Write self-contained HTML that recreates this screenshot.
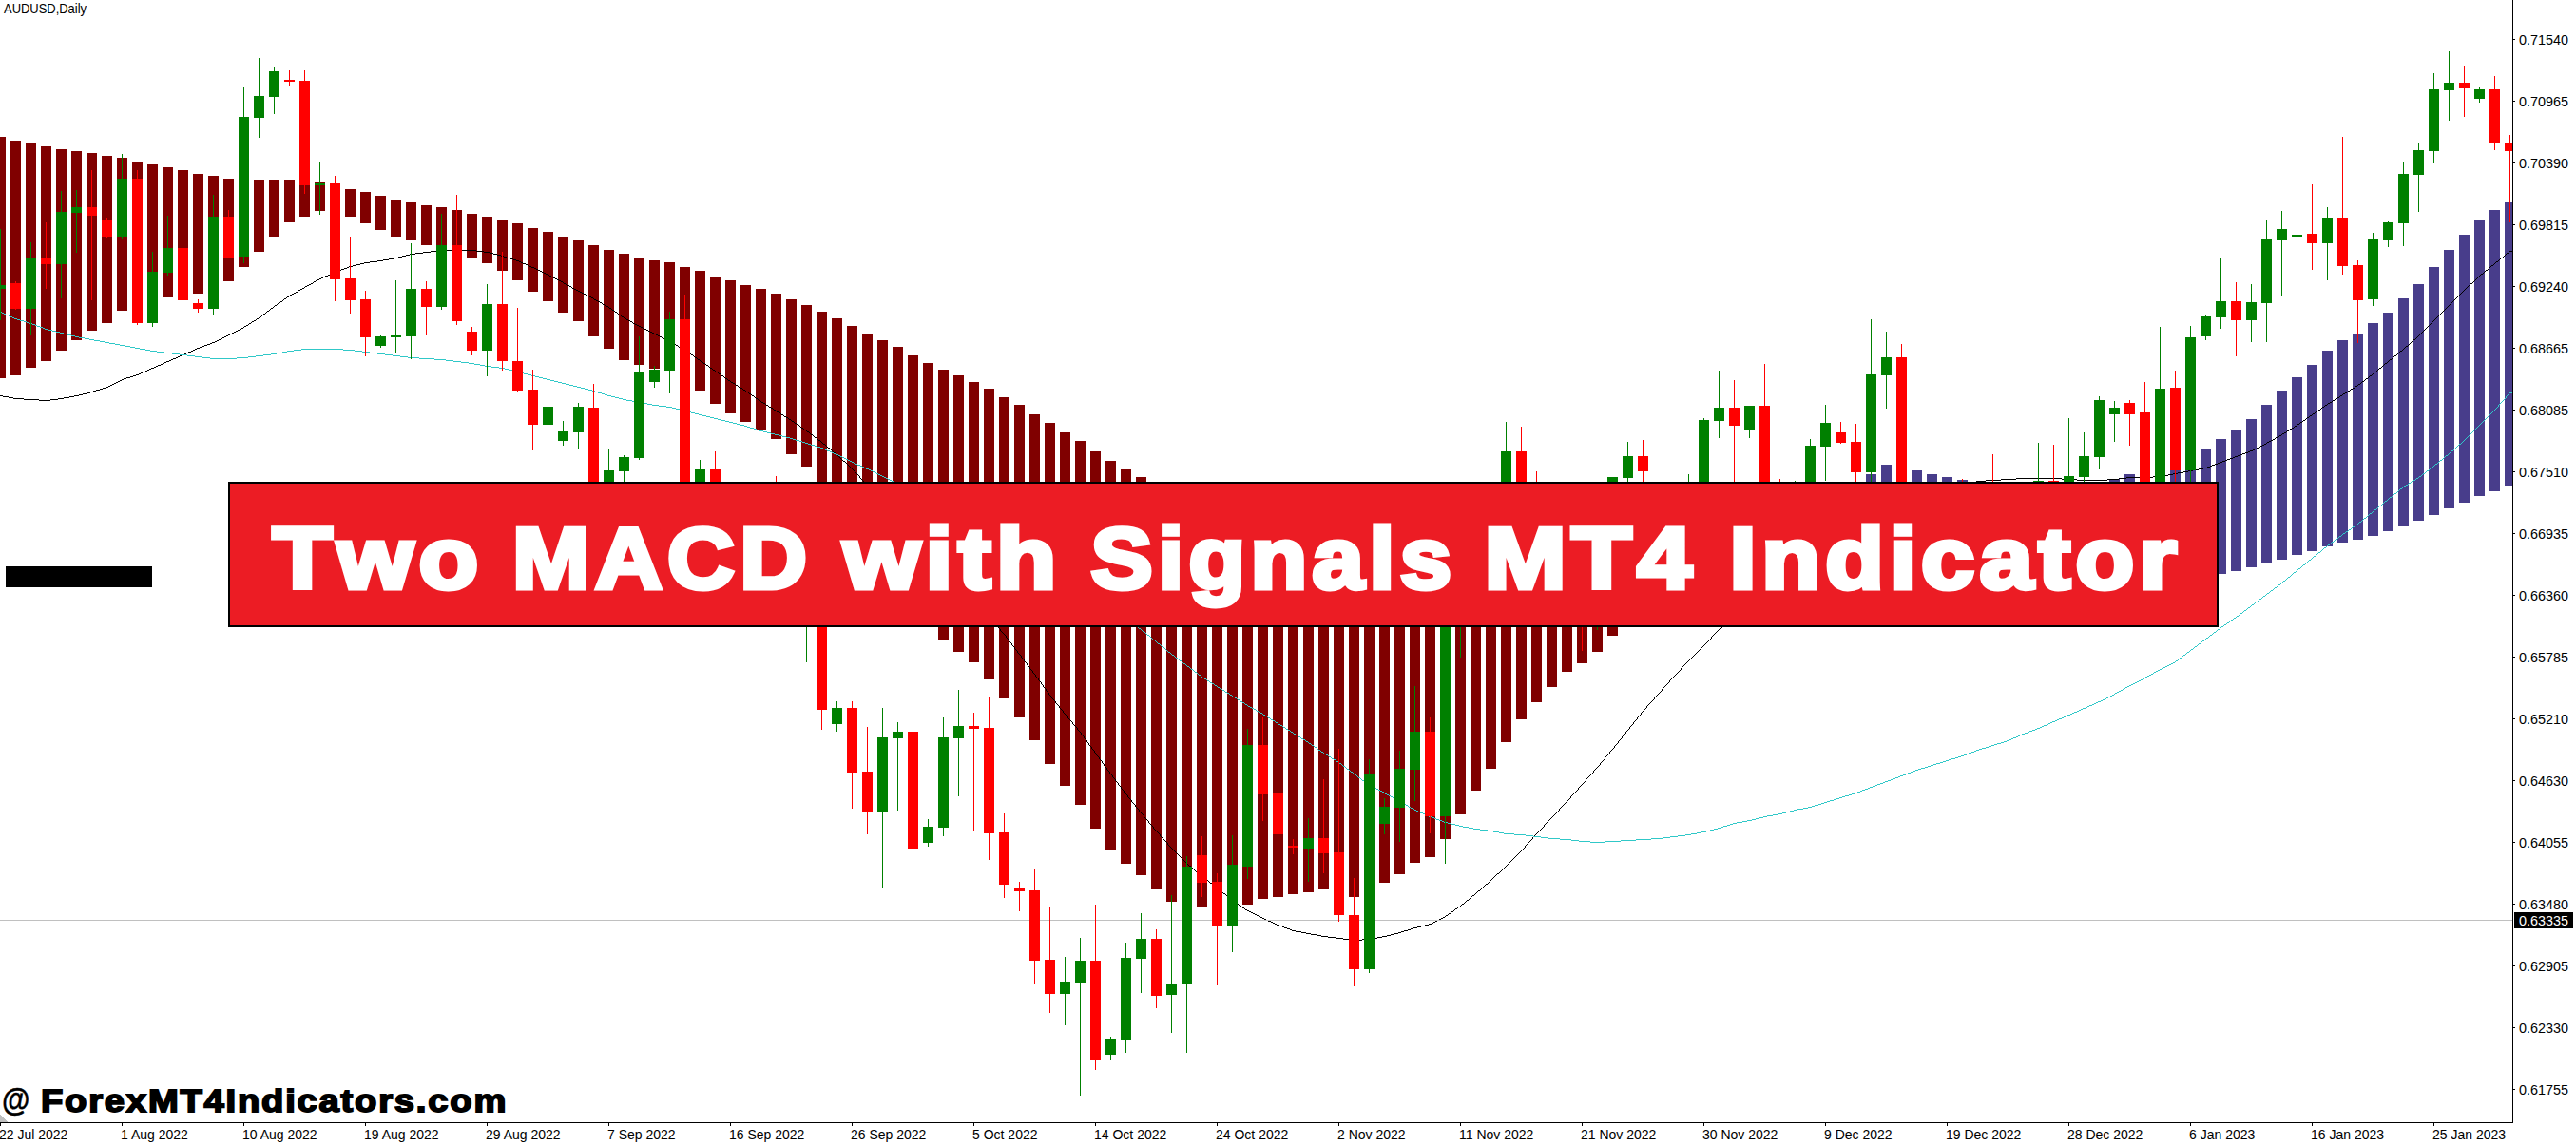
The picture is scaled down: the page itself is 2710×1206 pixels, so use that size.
<!DOCTYPE html>
<html><head><meta charset="utf-8"><title>Two MACD with Signals MT4 Indicator</title>
<style>
html,body{margin:0;padding:0;background:#fff;}
body{width:2710px;height:1206px;overflow:hidden;}
svg{display:block;}
.ax{font-family:"Liberation Sans",sans-serif;font-size:14.4px;fill:#000;}
.bn{font-family:"Liberation Sans",sans-serif;font-weight:bold;font-kerning:none;}
</style></head><body>
<svg width="2710" height="1206" viewBox="0 0 2710 1206" shape-rendering="crispEdges">
<rect width="2710" height="1206" fill="#fff"/>
<defs><clipPath id="c"><rect x="0" y="0" width="2643" height="1181"/></clipPath></defs>
<g clip-path="url(#c)">
<g fill="#800000">
<rect x="-5" y="144" width="11" height="254"/><rect x="11" y="148" width="11" height="247"/><rect x="27" y="151" width="11" height="236"/><rect x="43" y="154" width="11" height="226"/><rect x="59" y="157" width="11" height="212"/><rect x="75" y="159" width="11" height="199"/><rect x="91" y="161" width="11" height="187"/><rect x="107" y="164" width="11" height="176"/><rect x="123" y="166" width="11" height="161"/><rect x="139" y="170" width="11" height="152"/><rect x="155" y="173" width="11" height="145"/><rect x="171" y="176" width="11" height="137"/><rect x="187" y="179" width="11" height="132"/><rect x="203" y="183" width="11" height="126"/><rect x="219" y="185" width="11" height="117"/><rect x="235" y="188" width="11" height="108"/><rect x="251" y="188" width="11" height="93"/><rect x="267" y="189" width="11" height="76"/><rect x="283" y="189" width="11" height="60"/><rect x="299" y="189" width="11" height="45"/><rect x="315" y="190" width="11" height="38"/><rect x="331" y="192" width="11" height="30"/><rect x="347" y="196" width="11" height="28"/><rect x="363" y="199" width="11" height="29"/><rect x="379" y="202" width="11" height="33"/><rect x="395" y="206" width="11" height="36"/><rect x="411" y="210" width="11" height="39"/><rect x="427" y="213" width="11" height="40"/><rect x="443" y="216" width="11" height="42"/><rect x="459" y="218" width="11" height="44"/><rect x="475" y="221" width="11" height="46"/><rect x="491" y="225" width="11" height="47"/><rect x="507" y="228" width="11" height="49"/><rect x="523" y="231" width="11" height="54"/><rect x="539" y="235" width="11" height="60"/><rect x="555" y="240" width="11" height="67"/><rect x="571" y="244" width="11" height="73"/><rect x="587" y="249" width="11" height="80"/><rect x="603" y="253" width="11" height="85"/><rect x="619" y="258" width="11" height="96"/><rect x="635" y="263" width="11" height="104"/><rect x="651" y="267" width="11" height="112"/><rect x="667" y="271" width="11" height="113"/><rect x="683" y="274" width="11" height="114"/><rect x="699" y="276" width="11" height="114"/><rect x="715" y="281" width="11" height="119"/><rect x="731" y="285" width="11" height="126"/><rect x="747" y="291" width="11" height="134"/><rect x="763" y="295" width="11" height="140"/><rect x="779" y="300" width="11" height="144"/><rect x="795" y="304" width="11" height="148"/><rect x="811" y="309" width="11" height="153"/><rect x="827" y="315" width="11" height="163"/><rect x="843" y="321" width="11" height="170"/><rect x="859" y="328" width="11" height="180"/><rect x="875" y="335" width="11" height="193"/><rect x="891" y="343" width="11" height="205"/><rect x="907" y="351" width="11" height="219"/><rect x="923" y="358" width="11" height="234"/><rect x="939" y="365" width="11" height="248"/><rect x="955" y="374" width="11" height="260"/><rect x="971" y="382" width="11" height="273"/><rect x="987" y="389" width="11" height="285"/><rect x="1003" y="395" width="11" height="291"/><rect x="1019" y="402" width="11" height="295"/><rect x="1035" y="409" width="11" height="306"/><rect x="1051" y="418" width="11" height="317"/><rect x="1067" y="426" width="11" height="329"/><rect x="1083" y="436" width="11" height="343"/><rect x="1099" y="445" width="11" height="359"/><rect x="1115" y="455" width="11" height="372"/><rect x="1131" y="464" width="11" height="383"/><rect x="1147" y="475" width="11" height="397"/><rect x="1163" y="485" width="11" height="409"/><rect x="1179" y="494" width="11" height="415"/><rect x="1195" y="502" width="11" height="419"/><rect x="1211" y="510" width="11" height="426"/><rect x="1227" y="515" width="11" height="434"/><rect x="1243" y="520" width="11" height="435"/><rect x="1259" y="525" width="11" height="430"/><rect x="1275" y="530" width="11" height="424"/><rect x="1291" y="535" width="11" height="418"/><rect x="1307" y="540" width="11" height="412"/><rect x="1323" y="545" width="11" height="401"/><rect x="1339" y="550" width="11" height="394"/><rect x="1355" y="555" width="11" height="386"/><rect x="1371" y="560" width="11" height="379"/><rect x="1387" y="565" width="11" height="371"/><rect x="1403" y="570" width="11" height="368"/><rect x="1419" y="575" width="11" height="369"/><rect x="1435" y="580" width="11" height="356"/><rect x="1451" y="585" width="11" height="344"/><rect x="1467" y="590" width="11" height="330"/><rect x="1483" y="595" width="11" height="313"/><rect x="1499" y="600" width="11" height="302"/><rect x="1515" y="605" width="11" height="278"/><rect x="1531" y="610" width="11" height="247"/><rect x="1547" y="615" width="11" height="217"/><rect x="1563" y="620" width="11" height="189"/><rect x="1579" y="625" width="11" height="156"/><rect x="1595" y="630" width="11" height="127"/><rect x="1611" y="635" width="11" height="104"/><rect x="1627" y="640" width="11" height="83"/><rect x="1643" y="644" width="11" height="63"/><rect x="1659" y="648" width="11" height="50"/><rect x="1675" y="652" width="11" height="34"/><rect x="1691" y="655" width="11" height="14"/>
</g>
<g fill="#483D8B">
<rect x="1963" y="499" width="11" height="121"/><rect x="1979" y="489" width="11" height="131"/><rect x="1995" y="491" width="11" height="129"/><rect x="2011" y="495" width="11" height="125"/><rect x="2027" y="499" width="11" height="121"/><rect x="2043" y="502" width="11" height="118"/><rect x="2059" y="505" width="11" height="115"/><rect x="2219" y="504" width="11" height="116"/><rect x="2235" y="499" width="11" height="121"/><rect x="2251" y="494" width="11" height="126"/><rect x="2267" y="489" width="11" height="131"/><rect x="2283" y="484" width="11" height="131"/><rect x="2299" y="479" width="11" height="132"/><rect x="2315" y="473" width="11" height="134"/><rect x="2331" y="462" width="11" height="142"/><rect x="2347" y="452" width="11" height="149"/><rect x="2363" y="441" width="11" height="156"/><rect x="2379" y="426" width="11" height="167"/><rect x="2395" y="411" width="11" height="178"/><rect x="2411" y="397" width="11" height="187"/><rect x="2427" y="384" width="11" height="196"/><rect x="2443" y="369" width="11" height="206"/><rect x="2459" y="358" width="11" height="213"/><rect x="2475" y="351" width="11" height="217"/><rect x="2491" y="340" width="11" height="224"/><rect x="2507" y="329" width="11" height="230"/><rect x="2523" y="314" width="11" height="240"/><rect x="2539" y="299" width="11" height="249"/><rect x="2555" y="281" width="11" height="261"/><rect x="2571" y="263" width="11" height="272"/><rect x="2587" y="247" width="11" height="282"/><rect x="2603" y="232" width="11" height="290"/><rect x="2619" y="221" width="11" height="296"/><rect x="2635" y="213" width="11" height="298"/>
</g>
<path fill="#000" d="M403 273h6v1h-6zM540 273h3v1h-3zM1405 987h8v1h-8zM1443 987h6v1h-6zM2307 494h6v1h-6zM180 378h2v1h-2zM734 378h2v1h-2zM2514 378h2v1h-2zM232 356h2v1h-2zM698 356h2v1h-2zM1312 958h2v1h-2zM2006 537h3v1h-3zM1878 617h2v1h-2zM2089 505h16v1h-16zM2185 505h32v1h-32zM41 421h12v1h-12zM798 421h2v1h-2zM2454 421h2v1h-2zM1369 981h5v1h-5zM1471 981h3v1h-3zM325 299h2v1h-2zM595 299h2v1h-2zM2121 503h48v1h-48zM2229 503h8v1h-8zM2105 504h16v1h-16zM2169 504h16v1h-16zM2217 504h12v1h-12zM2054 515h2v1h-2zM2365 475h2v1h-2zM228 358h2v1h-2zM702 358h2v1h-2zM389 275h8v1h-8zM546 275h2v1h-2zM2626 275h2v1h-2zM130 398h3v1h-3zM763 398h2v1h-2zM2489 398h2v1h-2zM198 370h3v1h-3zM1538 951h2v1h-2zM1825 650h2v1h-2zM1575 919h2v1h-2zM2291 497h6v1h-6zM230 357h2v1h-2zM700 357h2v1h-2zM2539 357h2v1h-2zM238 353h2v1h-2zM692 353h2v1h-2zM2359 477h3v1h-3zM252 346h2v1h-2zM678 346h2v1h-2zM1947 573h2v1h-2zM2367 474h3v1h-3zM1273 929h2v1h-2zM1269 926h2v1h-2zM2050 517h2v1h-2zM651 331h2v1h-2zM2322 491h3v1h-3zM25 420h16v1h-16zM53 420h8v1h-8zM281 327h2v1h-2zM299 314h2v1h-2zM2237 502h28v1h-28zM248 348h2v1h-2zM682 348h2v1h-2zM414 271h5v1h-5zM533 271h4v1h-4zM2631 271h2v1h-2zM2380 468h2v1h-2zM1359 979h4v1h-4zM1477 979h4v1h-4zM316 304h2v1h-2zM604 304h2v1h-2zM259 342h2v1h-2zM670 342h2v1h-2zM1862 627h2v1h-2zM453 264h8v1h-8zM501 264h8v1h-8zM2640 264h17v1h-17zM1303 952h2v1h-2zM803 424h2v1h-2zM2449 424h2v1h-2zM383 276h6v1h-6zM548 276h2v1h-2zM1926 586h2v1h-2zM437 266h8v1h-8zM515 266h4v1h-4zM2637 266h2v1h-2zM2398 458h2v1h-2zM2302 495h5v1h-5zM173 381h2v1h-2zM133 397h4v1h-4zM431 267h6v1h-6zM519 267h4v1h-4zM1854 632h2v1h-2zM169 383h2v1h-2zM108 408h3v1h-3zM779 408h2v1h-2zM2475 408h2v1h-2zM330 296h2v1h-2zM590 296h2v1h-2zM354 285h3v1h-3zM568 285h2v1h-2zM338 292h2v1h-2zM582 292h2v1h-2zM347 288h2v1h-2zM574 288h2v1h-2zM2610 288h2v1h-2zM277 330h2v1h-2zM1846 637h2v1h-2zM2327 489h3v1h-3zM1297 948h2v1h-2zM345 289h2v1h-2zM576 289h2v1h-2zM419 270h4v1h-4zM530 270h3v1h-3zM2325 490h2v1h-2zM866 467h2v1h-2zM2382 467h2v1h-2zM1969 559h2v1h-2zM309 308h2v1h-2zM612 308h2v1h-2zM9 418h5v1h-5zM67 418h6v1h-6zM2459 418h2v1h-2zM2351 480h3v1h-3zM250 347h2v1h-2zM680 347h2v1h-2zM1421 989h12v1h-12zM159 387h3v1h-3zM747 387h2v1h-2zM2503 387h2v1h-2zM365 281h2v1h-2zM559 281h3v1h-3zM1349 975h2v1h-2zM1491 975h4v1h-4zM189 374h2v1h-2zM2519 374h2v1h-2zM2047 518h3v1h-3zM128 399h2v1h-2zM801 423h2v1h-2zM2451 423h2v1h-2zM2071 508h4v1h-4zM638 322h2v1h-2zM1942 576h2v1h-2zM270 335h2v1h-2zM657 335h2v1h-2zM1979 553h2v1h-2zM2043 520h2v1h-2zM150 391h3v1h-3zM753 391h2v1h-2zM2498 391h2v1h-2zM101 410h4v1h-4zM782 410h2v1h-2zM2372 472h2v1h-2zM226 359h2v1h-2zM2341 484h2v1h-2zM1929 584h2v1h-2zM2062 511h2v1h-2zM0 416h3v1h-3zM78 416h5v1h-5zM791 416h2v1h-2zM2462 416h2v1h-2zM1953 569h2v1h-2zM1326 965h2v1h-2zM1518 965h2v1h-2zM1318 961h2v1h-2zM1524 961h2v1h-2zM321 301h2v1h-2zM599 301h2v1h-2zM305 310h2v1h-2zM616 310h2v1h-2zM1320 962h2v1h-2zM218 362h3v1h-3zM709 362h2v1h-2zM461 263h40v1h-40zM1343 973h3v1h-3zM1499 973h4v1h-4zM1971 558h2v1h-2zM3 417h6v1h-6zM73 417h5v1h-5zM817 433h2v1h-2zM2436 433h2v1h-2zM327 298h2v1h-2zM593 298h2v1h-2zM2599 298h2v1h-2zM1995 543h2v1h-2zM164 385h2v1h-2zM323 300h2v1h-2zM597 300h2v1h-2zM1324 964h2v1h-2zM1351 976h3v1h-3zM1487 976h4v1h-4zM1913 594h2v1h-2zM1937 579h2v1h-2zM2015 533h3v1h-3zM871 471h2v1h-2zM2374 471h2v1h-2zM2038 522h3v1h-3zM210 365h3v1h-3zM714 365h2v1h-2zM2067 509h4v1h-4zM2370 473h2v1h-2zM427 268h4v1h-4zM523 268h4v1h-4zM2034 524h2v1h-2zM2265 501h10v1h-10zM1910 596h2v1h-2zM307 309h2v1h-2zM614 309h2v1h-2zM1886 612h2v1h-2zM1413 988h8v1h-8zM1433 988h10v1h-10zM2417 446h2v1h-2zM1849 635h2v1h-2zM1287 940h2v1h-2zM1379 983h6v1h-6zM1463 983h4v1h-4zM1300 950h2v1h-2zM14 419h11v1h-11zM61 419h6v1h-6zM795 419h2v1h-2zM2457 419h2v1h-2zM240 352h2v1h-2zM690 352h2v1h-2zM246 349h2v1h-2zM684 349h2v1h-2zM2318 492h4v1h-4zM674 344h2v1h-2zM846 452h2v1h-2zM375 278h4v1h-4zM553 278h2v1h-2zM1812 659h2v1h-2zM1390 985h7v1h-7zM1454 985h5v1h-5zM2281 499h5v1h-5zM178 379h2v1h-2zM285 324h2v1h-2zM641 324h2v1h-2zM1939 578h2v1h-2zM122 402h2v1h-2zM769 402h2v1h-2zM1332 968h2v1h-2zM1512 968h2v1h-2zM265 338h2v1h-2zM663 338h2v1h-2zM1833 645h2v1h-2zM148 392h2v1h-2zM1899 603h2v1h-2zM118 404h2v1h-2zM2481 404h2v1h-2zM334 294h2v1h-2zM586 294h2v1h-2zM836 445h2v1h-2zM1337 970h2v1h-2zM1508 970h2v1h-2zM362 282h3v1h-3zM562 282h2v1h-2zM1310 957h2v1h-2zM175 380h3v1h-3zM737 380h2v1h-2zM1385 984h5v1h-5zM1459 984h4v1h-4zM1875 619h2v1h-2zM2056 514h2v1h-2zM423 269h4v1h-4zM527 269h3v1h-3zM2026 528h2v1h-2zM1555 937h2v1h-2zM137 396h3v1h-3zM349 287h2v1h-2zM572 287h2v1h-2zM359 283h3v1h-3zM564 283h2v1h-2zM357 284h2v1h-2zM566 284h2v1h-2zM2615 284h2v1h-2zM367 280h4v1h-4zM557 280h2v1h-2zM1990 546h2v1h-2zM379 277h4v1h-4zM550 277h3v1h-3zM1835 644h2v1h-2zM314 305h2v1h-2zM606 305h2v1h-2zM289 321h2v1h-2zM636 321h2v1h-2zM295 317h2v1h-2zM629 317h2v1h-2zM397 274h6v1h-6zM543 274h3v1h-3zM1883 614h2v1h-2zM140 395h3v1h-3zM759 395h2v1h-2zM2493 395h2v1h-2zM1316 960h2v1h-2zM1531 956h2v1h-2zM1819 654h2v1h-2zM221 361h2v1h-2zM707 361h2v1h-2zM647 328h2v1h-2zM203 368h2v1h-2zM351 286h3v1h-3zM570 286h2v1h-2zM625 315h2v1h-2zM311 307h2v1h-2zM610 307h2v1h-2zM215 363h3v1h-3zM711 363h2v1h-2zM1815 657h2v1h-2zM98 411h3v1h-3zM2470 411h2v1h-2zM1889 610h2v1h-2zM124 401h2v1h-2zM2485 401h2v1h-2zM627 316h2v1h-2zM91 413h4v1h-4zM2467 413h2v1h-2zM146 393h2v1h-2zM756 393h2v1h-2zM1934 581h2v1h-2zM1859 629h2v1h-2zM644 326h2v1h-2zM2335 486h3v1h-3zM1563 930h2v1h-2zM162 386h2v1h-2zM191 373h3v1h-3zM727 373h2v1h-2zM2433 435h2v1h-2zM166 384h3v1h-3zM743 384h2v1h-2zM1363 980h6v1h-6zM1474 980h3v1h-3zM1543 947h2v1h-2zM157 388h2v1h-2zM2075 507h4v1h-4zM825 438h2v1h-2zM2032 525h2v1h-2zM1322 963h2v1h-2zM1521 963h2v1h-2zM126 400h2v1h-2zM766 400h2v1h-2zM342 290h3v1h-3zM578 290h2v1h-2zM1985 549h2v1h-2zM207 366h3v1h-3zM716 366h2v1h-2zM2064 510h3v1h-3zM234 355h2v1h-2zM696 355h2v1h-2zM887 485h2v1h-2zM2338 485h3v1h-3zM445 265h8v1h-8zM509 265h6v1h-6zM1977 554h2v1h-2zM861 463h2v1h-2zM2389 463h2v1h-2zM1895 606h2v1h-2zM1374 982h5v1h-5zM1467 982h4v1h-4zM120 403h2v1h-2zM771 403h2v1h-2zM1867 624h2v1h-2zM254 345h2v1h-2zM676 345h2v1h-2zM668 341h2v1h-2zM814 431h2v1h-2zM2439 431h2v1h-2zM2275 500h6v1h-6zM267 337h2v1h-2zM661 337h2v1h-2zM634 320h2v1h-2zM1961 564h2v1h-2zM1892 608h2v1h-2zM1330 967h2v1h-2zM1514 967h2v1h-2zM1314 959h2v1h-2zM1527 959h2v1h-2zM114 406h2v1h-2zM2478 406h2v1h-2zM1851 634h2v1h-2zM839 447h2v1h-2zM877 476h2v1h-2zM2362 476h3v1h-3zM2330 488h3v1h-3zM2357 478h2v1h-2zM2052 516h2v1h-2zM1265 923h2v1h-2zM1945 574h2v1h-2zM853 457h2v1h-2zM2028 527h2v1h-2zM1987 548h2v1h-2zM2346 482h3v1h-3zM1982 551h2v1h-2zM1397 986h8v1h-8zM1449 986h5v1h-5zM622 313h2v1h-2zM1334 969h3v1h-3zM1510 969h2v1h-2zM2396 459h2v1h-2zM332 295h2v1h-2zM588 295h2v1h-2zM87 414h4v1h-4zM788 414h2v1h-2zM2465 414h2v1h-2zM2024 529h2v1h-2zM105 409h3v1h-3zM2473 409h2v1h-2zM830 441h2v1h-2zM849 454h2v1h-2zM205 367h2v1h-2zM718 367h2v1h-2zM2349 481h2v1h-2zM187 375h2v1h-2zM2013 534h2v1h-2zM153 390h2v1h-2zM833 443h2v1h-2zM1354 977h3v1h-3zM1484 977h3v1h-3zM371 279h4v1h-4zM555 279h2v1h-2zM2621 279h2v1h-2zM2079 506h10v1h-10zM273 333h2v1h-2zM654 333h2v1h-2zM1841 640h2v1h-2zM1870 622h2v1h-2zM2406 453h2v1h-2zM1993 544h2v1h-2zM257 343h2v1h-2zM672 343h2v1h-2zM819 434h2v1h-2zM2430 437h2v1h-2zM95 412h3v1h-3zM785 412h2v1h-2zM262 340h2v1h-2zM666 340h2v1h-2zM340 291h2v1h-2zM580 291h2v1h-2zM1907 598h2v1h-2zM83 415h4v1h-4zM1902 601h2v1h-2zM1293 945h2v1h-2zM2297 496h5v1h-5zM1822 652h2v1h-2zM2041 521h2v1h-2zM116 405h2v1h-2zM774 405h2v1h-2zM2313 493h5v1h-5zM806 426h2v1h-2zM2446 426h2v1h-2zM1931 583h2v1h-2zM1958 566h2v1h-2zM302 312h2v1h-2zM620 312h2v1h-2zM2004 538h2v1h-2zM196 371h2v1h-2zM724 371h2v1h-2zM171 382h2v1h-2zM740 382h2v1h-2zM2509 382h2v1h-2zM1307 955h2v1h-2zM1251 911h2v1h-2zM1918 591h2v1h-2zM827 439h2v1h-2zM2427 439h2v1h-2zM1809 661h2v1h-2zM185 376h2v1h-2zM731 376h2v1h-2zM155 389h2v1h-2zM750 389h2v1h-2zM1838 642h2v1h-2zM2414 448h2v1h-2zM843 450h2v1h-2zM2411 450h2v1h-2zM2022 530h2v1h-2zM2036 523h2v1h-2zM2045 519h2v1h-2zM201 369h2v1h-2zM721 369h2v1h-2zM2525 369h2v1h-2zM182 377h3v1h-3zM2376 470h2v1h-2zM1963 563h2v1h-2zM2423 442h2v1h-2zM1534 954h2v1h-2zM1843 639h2v1h-2zM811 429h2v1h-2zM659 336h2v1h-2zM631 318h2v1h-2zM1346 974h3v1h-3zM1495 974h4v1h-4zM236 354h2v1h-2zM694 354h2v1h-2zM292 319h2v1h-2zM1827 649h2v1h-2zM2391 462h2v1h-2zM1950 571h2v1h-2zM2387 464h2v1h-2zM1549 942h2v1h-2zM2401 456h2v1h-2zM2286 498h5v1h-5zM1357 978h2v1h-2zM1481 978h3v1h-3zM244 350h2v1h-2zM686 350h2v1h-2zM409 272h5v1h-5zM537 272h3v1h-3zM1921 589h2v1h-2zM1282 936h2v1h-2zM223 360h3v1h-3zM705 360h2v1h-2zM822 436h2v1h-2zM2018 532h2v1h-2zM1974 556h2v1h-2zM2002 539h2v1h-2zM857 460h2v1h-2zM2394 460h2v1h-2zM809 428h2v1h-2zM2443 428h2v1h-2zM2420 444h2v1h-2zM1881 615h2v1h-2zM2378 469h2v1h-2zM618 311h2v1h-2zM1259 918h2v1h-2zM318 303h2v1h-2zM602 303h2v1h-2zM213 364h2v1h-2zM2531 364h2v1h-2zM2385 465h2v1h-2zM2409 451h2v1h-2zM1865 625h2v1h-2zM2030 526h2v1h-2zM111 407h3v1h-3zM777 407h2v1h-2zM143 394h3v1h-3zM194 372h2v1h-2zM1915 593h2v1h-2zM242 351h2v1h-2zM688 351h2v1h-2zM336 293h2v1h-2zM584 293h2v1h-2zM1966 561h2v1h-2zM608 306h2v1h-2zM1341 972h2v1h-2zM1503 972h3v1h-3zM1830 647h2v1h-2zM2058 513h2v1h-2zM1277 932h2v1h-2zM2403 455h2v1h-2zM2011 535h2v1h-2zM1328 966h2v1h-2zM1516 966h2v1h-2zM1923 588h2v1h-2zM2060 512h2v1h-2zM2020 531h2v1h-2zM1339 971h2v1h-2zM1506 971h2v1h-2zM2000 540h2v1h-2zM1873 620h2v1h-2zM2343 483h3v1h-3zM1857 630h2v1h-2zM2333 487h2v1h-2zM2009 536h2v1h-2zM1905 599h2v1h-2zM1955 568h2v1h-2zM2354 479h3v1h-3zM1998 541h2v1h-2zM256 344h1v1h-1zM261 341h1v1h-1zM264 339h1v1h-1zM269 336h1v1h-1zM272 334h1v1h-1zM275 332h1v1h-1zM276 331h1v1h-1zM279 329h1v1h-1zM280 328h1v1h-1zM283 326h1v1h-1zM284 325h1v1h-1zM287 323h1v1h-1zM288 322h1v1h-1zM291 320h1v1h-1zM294 318h1v1h-1zM297 316h1v1h-1zM298 315h1v1h-1zM301 313h1v1h-1zM304 311h1v1h-1zM313 306h1v1h-1zM320 302h1v1h-1zM329 297h1v1h-1zM592 297h1v1h-1zM601 302h1v1h-1zM624 314h1v1h-1zM633 319h1v1h-1zM640 323h1v1h-1zM643 325h1v1h-1zM646 327h1v1h-1zM649 329h1v1h-1zM650 330h1v1h-1zM653 332h1v1h-1zM656 334h1v1h-1zM665 339h1v1h-1zM704 359h1v1h-1zM713 364h1v1h-1zM720 368h1v1h-1zM723 370h1v1h-1zM726 372h1v1h-1zM729 374h1v1h-1zM730 375h1v1h-1zM733 377h1v1h-1zM736 379h1v1h-1zM739 381h1v1h-1zM742 383h1v1h-1zM745 385h1v1h-1zM746 386h1v1h-1zM749 388h1v1h-1zM752 390h1v1h-1zM755 392h1v1h-1zM758 394h1v1h-1zM761 396h1v1h-1zM762 397h1v1h-1zM765 399h1v1h-1zM768 401h1v1h-1zM773 404h1v1h-1zM776 406h1v1h-1zM781 409h1v1h-1zM784 411h1v1h-1zM787 413h1v1h-1zM790 415h1v1h-1zM793 417h1v1h-1zM794 418h1v1h-1zM797 420h1v1h-1zM800 422h1v1h-1zM805 425h1v1h-1zM808 427h1v1h-1zM813 430h1v1h-1zM816 432h1v1h-1zM821 435h1v1h-1zM824 437h1v1h-1zM829 440h1v1h-1zM832 442h1v1h-1zM835 444h1v1h-1zM838 446h1v1h-1zM841 448h1v1h-1zM842 449h1v1h-1zM845 451h1v1h-1zM848 453h1v1h-1zM851 455h1v1h-1zM852 456h1v1h-1zM855 458h1v1h-1zM856 459h1v1h-1zM859 461h1v1h-1zM860 462h1v1h-1zM863 464h1v1h-1zM864 465h1v1h-1zM865 466h1v1h-1zM868 468h1v1h-1zM869 469h1v1h-1zM870 470h1v1h-1zM873 472h1v1h-1zM874 473h1v1h-1zM875 474h1v1h-1zM876 475h1v1h-1zM879 477h1v1h-1zM880 478h1v1h-1zM881 479h1v1h-1zM882 480h1v1h-1zM883 481h1v1h-1zM884 482h1v1h-1zM885 483h1v1h-1zM886 484h1v1h-1zM889 486h1v1h-1zM890 487h1v1h-1zM891 488h1v1h-1zM892 489h1v1h-1zM893 490h1v1h-1zM894 491h1v1h-1zM895 492h1v1h-1zM896 493h1v1h-1zM897 494h1v1h-1zM898 495h1v1h-1zM899 496h1v1h-1zM900 497h1v1h-1zM901 498h1v1h-1zM902 499h1v1h-1zM903 500h1v1h-1zM904 501h1v2h-1zM905 503h1v1h-1zM906 504h1v1h-1zM907 505h1v1h-1zM908 506h1v1h-1zM909 507h1v1h-1zM910 508h1v1h-1zM911 509h1v1h-1zM912 510h1v1h-1zM913 511h1v1h-1zM914 512h1v1h-1zM915 513h1v1h-1zM916 514h1v1h-1zM917 515h1v1h-1zM918 516h1v1h-1zM919 517h1v1h-1zM920 518h1v2h-1zM921 520h1v1h-1zM922 521h1v1h-1zM923 522h1v1h-1zM924 523h1v1h-1zM925 524h1v1h-1zM926 525h1v1h-1zM927 526h1v1h-1zM928 527h1v1h-1zM929 528h1v1h-1zM930 529h1v1h-1zM931 530h1v1h-1zM932 531h1v1h-1zM933 532h1v1h-1zM934 533h1v1h-1zM935 534h1v1h-1zM936 535h1v2h-1zM937 537h1v1h-1zM938 538h1v1h-1zM939 539h1v1h-1zM940 540h1v1h-1zM941 541h1v1h-1zM942 542h1v1h-1zM943 543h1v1h-1zM944 544h1v1h-1zM945 545h1v1h-1zM946 546h1v1h-1zM947 547h1v1h-1zM948 548h1v2h-1zM949 550h1v1h-1zM950 551h1v1h-1zM951 552h1v1h-1zM952 553h1v1h-1zM953 554h1v1h-1zM954 555h1v1h-1zM955 556h1v1h-1zM956 557h1v2h-1zM957 559h1v1h-1zM958 560h1v1h-1zM959 561h1v1h-1zM960 562h1v1h-1zM961 563h1v1h-1zM962 564h1v1h-1zM963 565h1v1h-1zM964 566h1v1h-1zM965 567h1v1h-1zM966 568h1v1h-1zM967 569h1v1h-1zM968 570h1v2h-1zM969 572h1v1h-1zM970 573h1v1h-1zM971 574h1v1h-1zM972 575h1v1h-1zM973 576h1v1h-1zM974 577h1v1h-1zM975 578h1v1h-1zM976 579h1v1h-1zM977 580h1v1h-1zM978 581h1v1h-1zM979 582h1v1h-1zM980 583h1v2h-1zM981 585h1v1h-1zM982 586h1v1h-1zM983 587h1v1h-1zM984 588h1v1h-1zM985 589h1v1h-1zM986 590h1v1h-1zM987 591h1v1h-1zM988 592h1v2h-1zM989 594h1v1h-1zM990 595h1v1h-1zM991 596h1v1h-1zM992 597h1v1h-1zM993 598h1v1h-1zM994 599h1v1h-1zM995 600h1v1h-1zM996 601h1v1h-1zM997 602h1v1h-1zM998 603h1v1h-1zM999 604h1v1h-1zM1000 605h1v2h-1zM1001 607h1v1h-1zM1002 608h1v1h-1zM1003 609h1v1h-1zM1004 610h1v1h-1zM1005 611h1v1h-1zM1006 612h1v1h-1zM1007 613h1v1h-1zM1008 614h1v1h-1zM1009 615h1v1h-1zM1010 616h1v1h-1zM1011 617h1v1h-1zM1012 618h1v1h-1zM1013 619h1v1h-1zM1014 620h1v1h-1zM1015 621h1v1h-1zM1016 622h1v2h-1zM1017 624h1v1h-1zM1018 625h1v1h-1zM1019 626h1v1h-1zM1020 627h1v1h-1zM1021 628h1v1h-1zM1022 629h1v1h-1zM1023 630h1v1h-1zM1024 631h1v1h-1zM1025 632h1v1h-1zM1026 633h1v1h-1zM1027 634h1v1h-1zM1028 635h1v2h-1zM1029 637h1v1h-1zM1030 638h1v1h-1zM1031 639h1v1h-1zM1032 640h1v1h-1zM1033 641h1v1h-1zM1034 642h1v1h-1zM1035 643h1v1h-1zM1036 644h1v2h-1zM1037 646h1v1h-1zM1038 647h1v1h-1zM1039 648h1v1h-1zM1040 649h1v1h-1zM1041 650h1v1h-1zM1042 651h1v1h-1zM1043 652h1v1h-1zM1044 653h1v2h-1zM1045 655h1v1h-1zM1046 656h1v1h-1zM1047 657h1v1h-1zM1048 658h1v1h-1zM1049 659h1v1h-1zM1050 660h1v1h-1zM1051 661h1v1h-1zM1052 662h1v2h-1zM1053 664h1v1h-1zM1054 665h1v1h-1zM1055 666h1v1h-1zM1056 667h1v1h-1zM1057 668h1v1h-1zM1058 669h1v2h-1zM1059 671h1v1h-1zM1060 672h1v1h-1zM1061 673h1v2h-1zM1062 675h1v1h-1zM1063 676h1v1h-1zM1064 677h1v2h-1zM1065 679h1v1h-1zM1066 680h1v1h-1zM1067 681h1v2h-1zM1068 683h1v1h-1zM1069 684h1v1h-1zM1070 685h1v2h-1zM1071 687h1v1h-1zM1072 688h1v1h-1zM1073 689h1v1h-1zM1074 690h1v2h-1zM1075 692h1v1h-1zM1076 693h1v1h-1zM1077 694h1v2h-1zM1078 696h1v1h-1zM1079 697h1v1h-1zM1080 698h1v2h-1zM1081 700h1v1h-1zM1082 701h1v1h-1zM1083 702h1v2h-1zM1084 704h1v1h-1zM1085 705h1v1h-1zM1086 706h1v2h-1zM1087 708h1v1h-1zM1088 709h1v1h-1zM1089 710h1v2h-1zM1090 712h1v1h-1zM1091 713h1v1h-1zM1092 714h1v2h-1zM1093 716h1v1h-1zM1094 717h1v1h-1zM1095 718h1v2h-1zM1096 720h1v1h-1zM1097 721h1v2h-1zM1098 723h1v1h-1zM1099 724h1v1h-1zM1100 725h1v2h-1zM1101 727h1v1h-1zM1102 728h1v1h-1zM1103 729h1v2h-1zM1104 731h1v1h-1zM1105 732h1v1h-1zM1106 733h1v2h-1zM1107 735h1v1h-1zM1108 736h1v1h-1zM1109 737h1v1h-1zM1110 738h1v2h-1zM1111 740h1v1h-1zM1112 741h1v1h-1zM1113 742h1v1h-1zM1114 743h1v2h-1zM1115 745h1v1h-1zM1116 746h1v1h-1zM1117 747h1v1h-1zM1118 748h1v2h-1zM1119 750h1v1h-1zM1120 751h1v1h-1zM1121 752h1v1h-1zM1122 753h1v1h-1zM1123 754h1v2h-1zM1124 756h1v1h-1zM1125 757h1v1h-1zM1126 758h1v1h-1zM1127 759h1v1h-1zM1128 760h1v2h-1zM1129 762h1v1h-1zM1130 763h1v1h-1zM1131 764h1v1h-1zM1132 765h1v1h-1zM1133 766h1v2h-1zM1134 768h1v1h-1zM1135 769h1v1h-1zM1136 770h1v1h-1zM1137 771h1v2h-1zM1138 773h1v1h-1zM1139 774h1v1h-1zM1140 775h1v2h-1zM1141 777h1v1h-1zM1142 778h1v1h-1zM1143 779h1v2h-1zM1144 781h1v1h-1zM1145 782h1v2h-1zM1146 784h1v1h-1zM1147 785h1v1h-1zM1148 786h1v2h-1zM1149 788h1v1h-1zM1150 789h1v1h-1zM1151 790h1v2h-1zM1152 792h1v1h-1zM1153 793h1v2h-1zM1154 795h1v1h-1zM1155 796h1v1h-1zM1156 797h1v2h-1zM1157 799h1v1h-1zM1158 800h1v1h-1zM1159 801h1v2h-1zM1160 803h1v1h-1zM1161 804h1v2h-1zM1162 806h1v1h-1zM1163 807h1v1h-1zM1164 808h1v2h-1zM1165 810h1v1h-1zM1166 811h1v1h-1zM1167 812h1v2h-1zM1168 814h1v1h-1zM1169 815h1v1h-1zM1170 816h1v2h-1zM1171 818h1v1h-1zM1172 819h1v1h-1zM1173 820h1v2h-1zM1174 822h1v1h-1zM1175 823h1v1h-1zM1176 824h1v2h-1zM1177 826h1v1h-1zM1178 827h1v1h-1zM1179 828h1v2h-1zM1180 830h1v1h-1zM1181 831h1v1h-1zM1182 832h1v2h-1zM1183 834h1v1h-1zM1184 835h1v1h-1zM1185 836h1v1h-1zM1186 837h1v2h-1zM1187 839h1v1h-1zM1188 840h1v1h-1zM1189 841h1v1h-1zM1190 842h1v2h-1zM1191 844h1v1h-1zM1192 845h1v1h-1zM1193 846h1v1h-1zM1194 847h1v2h-1zM1195 849h1v1h-1zM1196 850h1v1h-1zM1197 851h1v1h-1zM1198 852h1v2h-1zM1199 854h1v1h-1zM1200 855h1v1h-1zM1201 856h1v1h-1zM1202 857h1v1h-1zM1203 858h1v2h-1zM1204 860h1v1h-1zM1205 861h1v1h-1zM1206 862h1v1h-1zM1207 863h1v1h-1zM1208 864h1v2h-1zM1209 866h1v1h-1zM1210 867h1v1h-1zM1211 868h1v1h-1zM1212 869h1v1h-1zM1213 870h1v2h-1zM1214 872h1v1h-1zM1215 873h1v1h-1zM1216 874h1v1h-1zM1217 875h1v1h-1zM1218 876h1v1h-1zM1219 877h1v1h-1zM1220 878h1v2h-1zM1221 880h1v1h-1zM1222 881h1v1h-1zM1223 882h1v1h-1zM1224 883h1v1h-1zM1225 884h1v1h-1zM1226 885h1v1h-1zM1227 886h1v1h-1zM1228 887h1v2h-1zM1229 889h1v1h-1zM1230 890h1v1h-1zM1231 891h1v1h-1zM1232 892h1v1h-1zM1233 893h1v1h-1zM1234 894h1v1h-1zM1235 895h1v1h-1zM1236 896h1v1h-1zM1237 897h1v1h-1zM1238 898h1v1h-1zM1239 899h1v1h-1zM1240 900h1v1h-1zM1241 901h1v1h-1zM1242 902h1v1h-1zM1243 903h1v1h-1zM1244 904h1v1h-1zM1245 905h1v1h-1zM1246 906h1v1h-1zM1247 907h1v1h-1zM1248 908h1v1h-1zM1249 909h1v1h-1zM1250 910h1v1h-1zM1253 912h1v1h-1zM1254 913h1v1h-1zM1255 914h1v1h-1zM1256 915h1v1h-1zM1257 916h1v1h-1zM1258 917h1v1h-1zM1261 919h1v1h-1zM1262 920h1v1h-1zM1263 921h1v1h-1zM1264 922h1v1h-1zM1267 924h1v1h-1zM1268 925h1v1h-1zM1271 927h1v1h-1zM1272 928h1v1h-1zM1275 930h1v1h-1zM1276 931h1v1h-1zM1279 933h1v1h-1zM1280 934h1v1h-1zM1281 935h1v1h-1zM1284 937h1v1h-1zM1285 938h1v1h-1zM1286 939h1v1h-1zM1289 941h1v1h-1zM1290 942h1v1h-1zM1291 943h1v1h-1zM1292 944h1v1h-1zM1295 946h1v1h-1zM1296 947h1v1h-1zM1299 949h1v1h-1zM1302 951h1v1h-1zM1305 953h1v1h-1zM1306 954h1v1h-1zM1309 956h1v1h-1zM1520 964h1v1h-1zM1523 962h1v1h-1zM1526 960h1v1h-1zM1529 958h1v1h-1zM1530 957h1v1h-1zM1533 955h1v1h-1zM1536 953h1v1h-1zM1537 952h1v1h-1zM1540 950h1v1h-1zM1541 949h1v1h-1zM1542 948h1v1h-1zM1545 946h1v1h-1zM1546 945h1v1h-1zM1547 944h1v1h-1zM1548 943h1v1h-1zM1551 941h1v1h-1zM1552 940h1v1h-1zM1553 939h1v1h-1zM1554 938h1v1h-1zM1557 936h1v1h-1zM1558 935h1v1h-1zM1559 934h1v1h-1zM1560 933h1v1h-1zM1561 932h1v1h-1zM1562 931h1v1h-1zM1565 929h1v1h-1zM1566 928h1v1h-1zM1567 927h1v1h-1zM1568 926h1v1h-1zM1569 925h1v1h-1zM1570 924h1v1h-1zM1571 923h1v1h-1zM1572 922h1v1h-1zM1573 921h1v1h-1zM1574 920h1v1h-1zM1577 918h1v1h-1zM1578 917h1v1h-1zM1579 916h1v1h-1zM1580 915h1v1h-1zM1581 914h1v1h-1zM1582 913h1v1h-1zM1583 912h1v1h-1zM1584 911h1v1h-1zM1585 910h1v1h-1zM1586 909h1v1h-1zM1587 908h1v1h-1zM1588 907h1v1h-1zM1589 906h1v1h-1zM1590 905h1v1h-1zM1591 904h1v1h-1zM1592 903h1v1h-1zM1593 902h1v1h-1zM1594 901h1v1h-1zM1595 900h1v1h-1zM1596 899h1v1h-1zM1597 898h1v1h-1zM1598 897h1v1h-1zM1599 896h1v1h-1zM1600 895h1v1h-1zM1601 894h1v1h-1zM1602 893h1v1h-1zM1603 892h1v1h-1zM1604 890h1v2h-1zM1605 889h1v1h-1zM1606 888h1v1h-1zM1607 887h1v1h-1zM1608 886h1v1h-1zM1609 885h1v1h-1zM1610 884h1v1h-1zM1611 883h1v1h-1zM1612 881h1v2h-1zM1613 880h1v1h-1zM1614 879h1v1h-1zM1615 878h1v1h-1zM1616 877h1v1h-1zM1617 876h1v1h-1zM1618 875h1v1h-1zM1619 874h1v1h-1zM1620 873h1v1h-1zM1621 872h1v1h-1zM1622 871h1v1h-1zM1623 870h1v1h-1zM1624 868h1v2h-1zM1625 867h1v1h-1zM1626 866h1v1h-1zM1627 865h1v1h-1zM1628 864h1v1h-1zM1629 863h1v1h-1zM1630 862h1v1h-1zM1631 861h1v1h-1zM1632 860h1v1h-1zM1633 859h1v1h-1zM1634 858h1v1h-1zM1635 857h1v1h-1zM1636 856h1v1h-1zM1637 855h1v1h-1zM1638 854h1v1h-1zM1639 853h1v1h-1zM1640 851h1v2h-1zM1641 850h1v1h-1zM1642 849h1v1h-1zM1643 848h1v1h-1zM1644 847h1v1h-1zM1645 846h1v1h-1zM1646 845h1v1h-1zM1647 844h1v1h-1zM1648 843h1v1h-1zM1649 842h1v1h-1zM1650 841h1v1h-1zM1651 840h1v1h-1zM1652 838h1v2h-1zM1653 837h1v1h-1zM1654 836h1v1h-1zM1655 835h1v1h-1zM1656 834h1v1h-1zM1657 833h1v1h-1zM1658 832h1v1h-1zM1659 831h1v1h-1zM1660 829h1v2h-1zM1661 828h1v1h-1zM1662 827h1v1h-1zM1663 826h1v1h-1zM1664 825h1v1h-1zM1665 824h1v1h-1zM1666 823h1v1h-1zM1667 822h1v1h-1zM1668 820h1v2h-1zM1669 819h1v1h-1zM1670 818h1v1h-1zM1671 817h1v1h-1zM1672 816h1v1h-1zM1673 815h1v1h-1zM1674 814h1v1h-1zM1675 813h1v1h-1zM1676 811h1v2h-1zM1677 810h1v1h-1zM1678 809h1v1h-1zM1679 808h1v1h-1zM1680 807h1v1h-1zM1681 806h1v1h-1zM1682 805h1v1h-1zM1683 803h1v2h-1zM1684 802h1v1h-1zM1685 801h1v1h-1zM1686 800h1v1h-1zM1687 799h1v1h-1zM1688 797h1v2h-1zM1689 796h1v1h-1zM1690 795h1v1h-1zM1691 794h1v1h-1zM1692 793h1v1h-1zM1693 791h1v2h-1zM1694 790h1v1h-1zM1695 789h1v1h-1zM1696 788h1v1h-1zM1697 787h1v1h-1zM1698 785h1v2h-1zM1699 784h1v1h-1zM1700 783h1v1h-1zM1701 782h1v1h-1zM1702 780h1v2h-1zM1703 779h1v1h-1zM1704 778h1v1h-1zM1705 777h1v1h-1zM1706 775h1v2h-1zM1707 774h1v1h-1zM1708 773h1v1h-1zM1709 772h1v1h-1zM1710 770h1v2h-1zM1711 769h1v1h-1zM1712 768h1v1h-1zM1713 767h1v1h-1zM1714 765h1v2h-1zM1715 764h1v1h-1zM1716 763h1v1h-1zM1717 762h1v1h-1zM1718 760h1v2h-1zM1719 759h1v1h-1zM1720 758h1v1h-1zM1721 757h1v1h-1zM1722 755h1v2h-1zM1723 754h1v1h-1zM1724 753h1v1h-1zM1725 752h1v1h-1zM1726 750h1v2h-1zM1727 749h1v1h-1zM1728 748h1v1h-1zM1729 747h1v1h-1zM1730 746h1v1h-1zM1731 745h1v1h-1zM1732 743h1v2h-1zM1733 742h1v1h-1zM1734 741h1v1h-1zM1735 740h1v1h-1zM1736 739h1v1h-1zM1737 738h1v1h-1zM1738 737h1v1h-1zM1739 736h1v1h-1zM1740 734h1v2h-1zM1741 733h1v1h-1zM1742 732h1v1h-1zM1743 731h1v1h-1zM1744 730h1v1h-1zM1745 729h1v1h-1zM1746 728h1v1h-1zM1747 727h1v1h-1zM1748 725h1v2h-1zM1749 724h1v1h-1zM1750 723h1v1h-1zM1751 722h1v1h-1zM1752 721h1v1h-1zM1753 720h1v1h-1zM1754 719h1v1h-1zM1755 718h1v1h-1zM1756 716h1v2h-1zM1757 715h1v1h-1zM1758 714h1v1h-1zM1759 713h1v1h-1zM1760 712h1v1h-1zM1761 711h1v1h-1zM1762 710h1v1h-1zM1763 709h1v1h-1zM1764 708h1v1h-1zM1765 707h1v1h-1zM1766 706h1v1h-1zM1767 705h1v1h-1zM1768 703h1v2h-1zM1769 702h1v1h-1zM1770 701h1v1h-1zM1771 700h1v1h-1zM1772 699h1v1h-1zM1773 698h1v1h-1zM1774 697h1v1h-1zM1775 696h1v1h-1zM1776 695h1v1h-1zM1777 694h1v1h-1zM1778 693h1v1h-1zM1779 692h1v1h-1zM1780 691h1v1h-1zM1781 690h1v1h-1zM1782 689h1v1h-1zM1783 688h1v1h-1zM1784 687h1v1h-1zM1785 686h1v1h-1zM1786 685h1v1h-1zM1787 684h1v1h-1zM1788 683h1v1h-1zM1789 682h1v1h-1zM1790 681h1v1h-1zM1791 680h1v1h-1zM1792 679h1v1h-1zM1793 678h1v1h-1zM1794 677h1v1h-1zM1795 676h1v1h-1zM1796 675h1v1h-1zM1797 674h1v1h-1zM1798 673h1v1h-1zM1799 672h1v1h-1zM1800 670h1v2h-1zM1801 669h1v1h-1zM1802 668h1v1h-1zM1803 667h1v1h-1zM1804 666h1v1h-1zM1805 665h1v1h-1zM1806 664h1v1h-1zM1807 663h1v1h-1zM1808 662h1v1h-1zM1811 660h1v1h-1zM1814 658h1v1h-1zM1817 656h1v1h-1zM1818 655h1v1h-1zM1821 653h1v1h-1zM1824 651h1v1h-1zM1829 648h1v1h-1zM1832 646h1v1h-1zM1837 643h1v1h-1zM1840 641h1v1h-1zM1845 638h1v1h-1zM1848 636h1v1h-1zM1853 633h1v1h-1zM1856 631h1v1h-1zM1861 628h1v1h-1zM1864 626h1v1h-1zM1869 623h1v1h-1zM1872 621h1v1h-1zM1877 618h1v1h-1zM1880 616h1v1h-1zM1885 613h1v1h-1zM1888 611h1v1h-1zM1891 609h1v1h-1zM1894 607h1v1h-1zM1897 605h1v1h-1zM1898 604h1v1h-1zM1901 602h1v1h-1zM1904 600h1v1h-1zM1909 597h1v1h-1zM1912 595h1v1h-1zM1917 592h1v1h-1zM1920 590h1v1h-1zM1925 587h1v1h-1zM1928 585h1v1h-1zM1933 582h1v1h-1zM1936 580h1v1h-1zM1941 577h1v1h-1zM1944 575h1v1h-1zM1949 572h1v1h-1zM1952 570h1v1h-1zM1957 567h1v1h-1zM1960 565h1v1h-1zM1965 562h1v1h-1zM1968 560h1v1h-1zM1973 557h1v1h-1zM1976 555h1v1h-1zM1981 552h1v1h-1zM1984 550h1v1h-1zM1989 547h1v1h-1zM1992 545h1v1h-1zM1997 542h1v1h-1zM2384 466h1v1h-1zM2393 461h1v1h-1zM2400 457h1v1h-1zM2405 454h1v1h-1zM2408 452h1v1h-1zM2413 449h1v1h-1zM2416 447h1v1h-1zM2419 445h1v1h-1zM2422 443h1v1h-1zM2425 441h1v1h-1zM2426 440h1v1h-1zM2429 438h1v1h-1zM2432 436h1v1h-1zM2435 434h1v1h-1zM2438 432h1v1h-1zM2441 430h1v1h-1zM2442 429h1v1h-1zM2445 427h1v1h-1zM2448 425h1v1h-1zM2453 422h1v1h-1zM2456 420h1v1h-1zM2461 417h1v1h-1zM2464 415h1v1h-1zM2469 412h1v1h-1zM2472 410h1v1h-1zM2477 407h1v1h-1zM2480 405h1v1h-1zM2483 403h1v1h-1zM2484 402h1v1h-1zM2487 400h1v1h-1zM2488 399h1v1h-1zM2491 397h1v1h-1zM2492 396h1v1h-1zM2495 394h1v1h-1zM2496 393h1v1h-1zM2497 392h1v1h-1zM2500 390h1v1h-1zM2501 389h1v1h-1zM2502 388h1v1h-1zM2505 386h1v1h-1zM2506 385h1v1h-1zM2507 384h1v1h-1zM2508 383h1v1h-1zM2511 381h1v1h-1zM2512 380h1v1h-1zM2513 379h1v1h-1zM2516 377h1v1h-1zM2517 376h1v1h-1zM2518 375h1v1h-1zM2521 373h1v1h-1zM2522 372h1v1h-1zM2523 371h1v1h-1zM2524 370h1v1h-1zM2527 368h1v1h-1zM2528 367h1v1h-1zM2529 366h1v1h-1zM2530 365h1v1h-1zM2533 363h1v1h-1zM2534 362h1v1h-1zM2535 361h1v1h-1zM2536 360h1v1h-1zM2537 359h1v1h-1zM2538 358h1v1h-1zM2541 356h1v1h-1zM2542 355h1v1h-1zM2543 354h1v1h-1zM2544 353h1v1h-1zM2545 352h1v1h-1zM2546 351h1v1h-1zM2547 350h1v1h-1zM2548 349h1v1h-1zM2549 348h1v1h-1zM2550 347h1v1h-1zM2551 346h1v1h-1zM2552 345h1v1h-1zM2553 344h1v1h-1zM2554 343h1v1h-1zM2555 342h1v1h-1zM2556 341h1v1h-1zM2557 340h1v1h-1zM2558 339h1v1h-1zM2559 338h1v1h-1zM2560 337h1v1h-1zM2561 336h1v1h-1zM2562 335h1v1h-1zM2563 334h1v1h-1zM2564 333h1v1h-1zM2565 332h1v1h-1zM2566 331h1v1h-1zM2567 330h1v1h-1zM2568 329h1v1h-1zM2569 328h1v1h-1zM2570 327h1v1h-1zM2571 326h1v1h-1zM2572 325h1v1h-1zM2573 324h1v1h-1zM2574 323h1v1h-1zM2575 322h1v1h-1zM2576 321h1v1h-1zM2577 320h1v1h-1zM2578 319h1v1h-1zM2579 318h1v1h-1zM2580 317h1v1h-1zM2581 316h1v1h-1zM2582 315h1v1h-1zM2583 314h1v1h-1zM2584 313h1v1h-1zM2585 312h1v1h-1zM2586 311h1v1h-1zM2587 310h1v1h-1zM2588 309h1v1h-1zM2589 308h1v1h-1zM2590 307h1v1h-1zM2591 306h1v1h-1zM2592 305h1v1h-1zM2593 304h1v1h-1zM2594 303h1v1h-1zM2595 302h1v1h-1zM2596 301h1v1h-1zM2597 300h1v1h-1zM2598 299h1v1h-1zM2601 297h1v1h-1zM2602 296h1v1h-1zM2603 295h1v1h-1zM2604 294h1v1h-1zM2605 293h1v1h-1zM2606 292h1v1h-1zM2607 291h1v1h-1zM2608 290h1v1h-1zM2609 289h1v1h-1zM2612 287h1v1h-1zM2613 286h1v1h-1zM2614 285h1v1h-1zM2617 283h1v1h-1zM2618 282h1v1h-1zM2619 281h1v1h-1zM2620 280h1v1h-1zM2623 278h1v1h-1zM2624 277h1v1h-1zM2625 276h1v1h-1zM2628 274h1v1h-1zM2629 273h1v1h-1zM2630 272h1v1h-1zM2633 270h1v1h-1zM2634 269h1v1h-1zM2635 268h1v1h-1zM2636 267h1v1h-1zM2639 265h1v1h-1z"/>
<path fill="#30C8C8" d="M841 464h3v1h-3zM1565 874h6v1h-6zM1795 874h4v1h-4zM1613 880h8v1h-8zM1757 880h8v1h-8zM1387 789h2v1h-2zM2079 789h3v1h-3zM1067 582h2v1h-2zM165 370h8v1h-8zM297 370h5v1h-5zM381 370h8v1h-8zM1193 658h2v1h-2zM711 430h4v1h-4zM2465 561h2v1h-2zM147 367h6v1h-6zM317 367h44v1h-44zM1313 743h2v1h-2zM2196 743h2v1h-2zM1673 886h16v1h-16zM771 445h4v1h-4zM1621 881h8v1h-8zM1749 881h8v1h-8zM1473 844h2v1h-2zM1919 844h3v1h-3zM1155 635h2v1h-2zM2166 756h3v1h-3zM1166 641h2v1h-2zM1661 885h12v1h-12zM1689 885h16v1h-16zM2105 781h3v1h-3zM181 372h8v1h-8zM285 372h6v1h-6zM397 372h8v1h-8zM1025 557h2v1h-2zM2471 557h2v1h-2zM1127 618h2v1h-2zM2393 618h2v1h-2zM517 386h8v1h-8zM2007 813h3v1h-3zM1009 548h2v1h-2zM2274 703h2v1h-2zM873 475h2v1h-2zM1490 853h2v1h-2zM1883 853h4v1h-4zM2461 564h2v1h-2zM629 413h4v1h-4zM2640 413h17v1h-17zM153 368h5v1h-5zM309 368h8v1h-8zM361 368h12v1h-12zM15 335h3v1h-3zM221 377h28v1h-28zM441 377h16v1h-16zM1395 794h2v1h-2zM2066 794h3v1h-3zM1479 847h2v1h-2zM1909 847h4v1h-4zM619 410h4v1h-4zM1299 734h2v1h-2zM2216 734h2v1h-2zM807 455h4v1h-4zM9 332h2v1h-2zM681 425h5v1h-5zM1398 796h2v1h-2zM2060 796h3v1h-3zM1539 870h6v1h-6zM1810 870h3v1h-3zM1497 856h2v1h-2zM1870 856h5v1h-5zM956 516h2v1h-2zM890 483h2v1h-2zM2525 514h2v1h-2zM71 352h4v1h-4zM1582 877h11v1h-11zM1779 877h6v1h-6zM1527 867h4v1h-4zM1820 867h3v1h-3zM995 539h2v1h-2zM126 363h5v1h-5zM2257 712h2v1h-2zM607 407h4v1h-4zM1207 668h2v1h-2zM2325 668h2v1h-2zM857 469h3v1h-3zM775 446h4v1h-4zM1145 629h2v1h-2zM1187 654h2v1h-2zM47 346h4v1h-4zM1054 574h2v1h-2zM110 360h5v1h-5zM1523 866h4v1h-4zM1823 866h4v1h-4zM1484 850h2v1h-2zM1897 850h5v1h-5zM1267 714h2v1h-2zM2254 714h2v1h-2zM1355 768h2v1h-2zM2138 768h3v1h-3zM1334 755h2v1h-2zM2169 755h2v1h-2zM1501 858h2v1h-2zM1859 858h6v1h-6zM213 376h8v1h-8zM249 376h12v1h-12zM429 376h12v1h-12zM2343 655h2v1h-2zM205 375h8v1h-8zM261 375h8v1h-8zM421 375h8v1h-8zM1629 882h12v1h-12zM1737 882h12v1h-12zM701 428h6v1h-6zM2276 702h2v1h-2zM759 442h4v1h-4zM877 477h2v1h-2zM1535 869h4v1h-4zM1813 869h4v1h-4zM1482 849h2v1h-2zM1902 849h4v1h-4zM1013 550h2v1h-2zM1253 704h2v1h-2zM2272 704h2v1h-2zM1297 733h2v1h-2zM2218 733h2v1h-2zM1509 861h2v1h-2zM1847 861h4v1h-4zM1233 689h2v1h-2zM2297 689h2v1h-2zM142 366h5v1h-5zM457 378h12v1h-12zM633 414h3v1h-3zM18 336h3v1h-3zM1593 878h12v1h-12zM1773 878h6v1h-6zM1380 784h2v1h-2zM2095 784h3v1h-3zM1319 746h2v1h-2zM2189 746h2v1h-2zM1475 845h2v1h-2zM1916 845h3v1h-3zM1999 816h3v1h-3zM189 373h8v1h-8zM277 373h8v1h-8zM405 373h8v1h-8zM866 472h2v1h-2zM1107 606h2v1h-2zM1291 729h2v1h-2zM2225 729h2v1h-2zM1444 828h2v1h-2zM1967 828h3v1h-3zM1641 883h12v1h-12zM1721 883h16v1h-16zM493 382h6v1h-6zM1517 864h2v1h-2zM1833 864h5v1h-5zM547 392h4v1h-4zM1429 818h2v1h-2zM1994 818h3v1h-3zM670 423h5v1h-5zM197 374h8v1h-8zM269 374h8v1h-8zM413 374h8v1h-8zM786 449h3v1h-3zM940 507h2v1h-2zM173 371h8v1h-8zM291 371h6v1h-6zM389 371h8v1h-8zM934 504h2v1h-2zM655 420h4v1h-4zM926 500h2v1h-2zM918 496h2v1h-2zM1147 630h2v1h-2zM2377 630h2v1h-2zM659 421h6v1h-6zM2085 787h4v1h-4zM911 493h3v1h-3zM1030 560h2v1h-2zM1377 782h2v1h-2zM2101 782h4v1h-4zM834 462h3v1h-3zM1041 567h2v1h-2zM2457 567h2v1h-2zM99 358h6v1h-6zM1177 648h2v1h-2zM2353 648h2v1h-2zM1577 876h5v1h-5zM1785 876h5v1h-5zM575 399h4v1h-4zM811 456h4v1h-4zM1273 718h2v1h-2zM2246 718h2v1h-2zM1142 627h2v1h-2zM2381 627h2v1h-2zM1477 846h2v1h-2zM1913 846h3v1h-3zM1470 842h2v1h-2zM1925 842h4v1h-4zM1001 543h2v1h-2zM2159 759h3v1h-3zM1461 837h2v1h-2zM1941 837h4v1h-4zM2242 720h2v1h-2zM675 424h6v1h-6zM1413 806h2v1h-2zM2028 806h3v1h-3zM1105 605h2v1h-2zM1463 838h2v1h-2zM1938 838h3v1h-3zM1326 750h2v1h-2zM2180 750h2v1h-2zM2238 722h2v1h-2zM2210 737h2v1h-2zM551 393h4v1h-4zM1070 584h2v1h-2zM1329 752h2v1h-2zM2175 752h3v1h-3zM1261 710h2v1h-2zM2261 710h2v1h-2zM1519 865h4v1h-4zM1827 865h6v1h-6zM837 463h4v1h-4zM1198 661h2v1h-2zM1433 821h2v1h-2zM1986 821h3v1h-3zM1454 833h2v1h-2zM1954 833h3v1h-3zM2514 523h2v1h-2zM905 490h2v1h-2zM42 344h3v1h-3zM158 369h7v1h-7zM302 369h7v1h-7zM373 369h8v1h-8zM914 494h2v1h-2zM1417 809h2v1h-2zM2018 809h3v1h-3zM1366 775h2v1h-2zM2121 775h2v1h-2zM1171 644h2v1h-2zM45 345h2v1h-2zM1390 791h2v1h-2zM2074 791h3v1h-3zM579 400h4v1h-4zM1098 601h2v1h-2zM693 427h8v1h-8zM981 531h2v1h-2zM2071 792h3v1h-3zM1457 835h2v1h-2zM1948 835h3v1h-3zM13 334h2v1h-2zM886 481h2v1h-2zM1047 570h2v1h-2zM2453 570h2v1h-2zM1195 659h2v1h-2zM2337 659h2v1h-2zM67 351h4v1h-4zM731 435h4v1h-4zM6 331h3v1h-3zM1093 598h2v1h-2zM2418 598h2v1h-2zM1450 831h2v1h-2zM1959 831h3v1h-3zM1466 840h2v1h-2zM1932 840h3v1h-3zM121 362h5v1h-5zM603 406h4v1h-4zM1369 777h2v1h-2zM2116 777h2v1h-2zM2148 764h2v1h-2zM543 391h4v1h-4zM1406 801h2v1h-2zM2044 801h3v1h-3zM966 522h2v1h-2zM1059 577h2v1h-2zM1223 681h2v1h-2zM55 348h4v1h-4zM651 419h4v1h-4zM2198 742h3v1h-3zM1159 637h2v1h-2zM1018 553h2v1h-2zM1922 843h3v1h-3zM743 438h4v1h-4zM639 416h4v1h-4zM1488 852h2v1h-2zM1887 852h4v1h-4zM1605 879h8v1h-8zM1765 879h8v1h-8zM2005 814h2v1h-2zM665 422h5v1h-5zM1237 692h2v1h-2zM2293 692h2v1h-2zM1078 589h2v1h-2zM2429 589h2v1h-2zM1906 848h3v1h-3zM1281 723h2v1h-2zM2236 723h2v1h-2zM1081 591h2v1h-2zM723 433h4v1h-4zM1448 830h2v1h-2zM1962 830h3v1h-3zM1115 611h2v1h-2zM2402 611h2v1h-2zM1218 677h2v1h-2zM2313 677h2v1h-2zM1403 799h2v1h-2zM2050 799h3v1h-3zM998 541h2v1h-2zM1401 798h2v1h-2zM2053 798h4v1h-4zM115 361h6v1h-6zM831 461h3v1h-3zM2350 650h2v1h-2zM1653 884h8v1h-8zM1705 884h16v1h-16zM932 503h2v1h-2zM2542 503h2v1h-2zM715 431h4v1h-4zM924 499h2v1h-2zM1486 851h2v1h-2zM1891 851h6v1h-6zM916 495h2v1h-2zM2553 495h2v1h-2zM1182 651h2v1h-2zM587 402h4v1h-4zM909 492h2v1h-2zM2557 492h2v1h-2zM1006 546h2v1h-2zM1492 854h2v1h-2zM1879 854h4v1h-4zM571 398h4v1h-4zM882 479h2v1h-2zM2573 479h2v1h-2zM647 418h4v1h-4zM875 476h2v1h-2zM1468 841h2v1h-2zM1929 841h3v1h-3zM2155 761h2v1h-2zM868 473h2v1h-2zM1110 608h2v1h-2zM988 535h2v1h-2zM2092 785h3v1h-3zM1997 817h2v1h-2zM727 434h4v1h-4zM1202 664h2v1h-2zM2021 808h4v1h-4zM1213 673h2v1h-2zM860 470h3v1h-3zM1307 739h2v1h-2zM2205 739h2v1h-2zM2317 674h2v1h-2zM599 405h4v1h-4zM767 444h4v1h-4zM1169 643h2v1h-2zM1057 576h2v1h-2zM2445 576h2v1h-2zM1035 563h2v1h-2zM477 380h8v1h-8zM1095 599h2v1h-2zM947 511h2v1h-2zM2529 511h2v1h-2zM1162 639h2v1h-2zM2365 639h2v1h-2zM751 440h4v1h-4zM1363 773h2v1h-2zM2125 773h2v1h-2zM1342 760h2v1h-2zM2157 760h2v1h-2zM11 333h2v1h-2zM1545 871h5v1h-5zM1807 871h3v1h-3zM4 330h2v1h-2zM1951 834h3v1h-3zM615 409h4v1h-4zM2031 805h3v1h-3zM1137 624h2v1h-2zM2385 624h2v1h-2zM990 536h2v1h-2zM2498 536h2v1h-2zM1305 738h2v1h-2zM2207 738h3v1h-3zM1557 873h8v1h-8zM1799 873h4v1h-4zM2034 804h3v1h-3zM2025 807h3v1h-3zM779 447h4v1h-4zM719 432h4v1h-4zM2280 700h2v1h-2zM1190 656h2v1h-2zM793 451h3v1h-3zM2340 657h2v1h-2zM1164 640h2v1h-2zM2015 810h3v1h-3zM827 460h4v1h-4zM1358 770h2v1h-2zM2133 770h2v1h-2zM94 357h5v1h-5zM1157 636h2v1h-2zM2369 636h2v1h-2zM1275 719h2v1h-2zM2244 719h2v1h-2zM21 337h4v1h-4zM803 454h4v1h-4zM1123 616h2v1h-2zM626 412h3v1h-3zM137 365h5v1h-5zM1440 826h2v1h-2zM1973 826h2v1h-2zM499 383h6v1h-6zM1550 872h7v1h-7zM1803 872h4v1h-4zM2361 642h2v1h-2zM1050 572h2v1h-2zM1437 824h2v1h-2zM1978 824h3v1h-3zM2118 776h3v1h-3zM1052 573h2v1h-2zM2449 573h2v1h-2zM936 505h2v1h-2zM2539 505h2v1h-2zM1086 594h2v1h-2zM2423 594h2v1h-2zM2143 766h3v1h-3zM2305 683h2v1h-2zM799 453h4v1h-4zM969 524h2v1h-2zM1179 649h2v1h-2zM1045 569h2v1h-2zM1011 549h2v1h-2zM2482 549h2v1h-2zM469 379h8v1h-8zM1315 744h2v1h-2zM2194 744h2v1h-2zM898 487h2v1h-2zM1347 763h2v1h-2zM2150 763h3v1h-3zM567 397h4v1h-4zM1185 653h2v1h-2zM2268 706h2v1h-2zM1514 863h3v1h-3zM1838 863h5v1h-5zM888 482h2v1h-2zM2063 795h3v1h-3zM1989 820h2v1h-2zM63 350h4v1h-4zM1393 793h2v1h-2zM2069 793h2v1h-2zM1073 586h2v1h-2zM595 404h4v1h-4zM1991 819h3v1h-3zM1265 713h2v1h-2zM1503 859h3v1h-3zM1855 859h4v1h-4zM2047 800h3v1h-3zM1571 875h6v1h-6zM1790 875h5v1h-5zM1174 646h2v1h-2zM1033 562h2v1h-2zM2252 715h2v1h-2zM39 343h3v1h-3zM2135 769h3v1h-3zM1531 868h4v1h-4zM1817 868h3v1h-3zM2321 671h2v1h-2zM643 417h4v1h-4zM131 364h6v1h-6zM928 501h2v1h-2zM2545 501h2v1h-2zM623 411h3v1h-3zM1283 724h2v1h-2zM2234 724h2v1h-2zM2 329h2v1h-2zM2407 607h2v1h-2zM686 426h7v1h-7zM539 390h4v1h-4zM2468 559h2v1h-2zM1409 803h2v1h-2zM2037 803h4v1h-4zM1062 579h2v1h-2zM2082 788h3v1h-3zM2329 665h2v1h-2zM1150 632h2v1h-2zM1383 786h2v1h-2zM2089 786h3v1h-3zM51 347h4v1h-4zM1027 558h2v1h-2zM1020 554h2v1h-2zM2475 554h2v1h-2zM993 538h2v1h-2zM563 396h4v1h-4zM986 534h2v1h-2zM1361 772h2v1h-2zM2127 772h3v1h-3zM75 353h4v1h-4zM850 467h3v1h-3zM2587 467h2v1h-2zM847 466h3v1h-3zM2347 652h2v1h-2zM1289 728h2v1h-2zM2227 728h2v1h-2zM525 387h6v1h-6zM1983 822h3v1h-3zM1015 551h2v1h-2zM979 530h2v1h-2zM2478 552h2v1h-2zM823 459h4v1h-4zM870 474h3v1h-3zM2579 474h2v1h-2zM974 527h2v1h-2zM2509 527h2v1h-2zM863 471h3v1h-3zM2057 797h3v1h-3zM922 498h2v1h-2zM2549 498h2v1h-2zM2111 779h3v1h-3zM591 403h4v1h-4zM1371 778h2v1h-2zM2114 778h2v1h-2zM1506 860h3v1h-3zM1851 860h4v1h-4zM1374 780h2v1h-2zM2108 780h3v1h-3zM796 452h3v1h-3zM1038 565h2v1h-2zM37 342h2v1h-2zM907 491h2v1h-2zM1003 544h2v1h-2zM1139 625h2v1h-2zM2487 545h2v1h-2zM1975 825h3v1h-3zM747 439h4v1h-4zM1425 815h2v1h-2zM2002 815h3v1h-3zM1442 827h2v1h-2zM1970 827h3v1h-3zM1459 836h2v1h-2zM1945 836h3v1h-3zM963 520h2v1h-2zM892 484h2v1h-2zM2567 484h2v1h-2zM535 389h4v1h-4zM1118 613h2v1h-2zM971 525h2v1h-2zM2270 705h2v1h-2zM1511 862h3v1h-3zM1843 862h4v1h-4zM879 478h3v1h-3zM89 356h5v1h-5zM2187 747h2v1h-2zM1324 749h2v1h-2zM2182 749h3v1h-3zM1241 695h2v1h-2zM2289 695h2v1h-2zM958 517h2v1h-2zM1446 829h2v1h-2zM1965 829h2v1h-2zM961 519h2v1h-2zM2519 519h2v1h-2zM1421 812h2v1h-2zM2010 812h3v1h-3zM105 359h5v1h-5zM1022 555h2v1h-2zM951 513h2v1h-2zM1350 765h2v1h-2zM2146 765h2v1h-2zM1322 748h2v1h-2zM2185 748h2v1h-2zM510 385h7v1h-7zM920 497h2v1h-2zM2123 774h2v1h-2zM2263 709h2v1h-2zM2259 711h2v1h-2zM844 465h3v1h-3zM1245 698h2v1h-2zM2284 698h2v1h-2zM1043 568h2v1h-2zM2282 699h2v1h-2zM902 489h3v1h-3zM531 388h4v1h-4zM1249 701h2v1h-2zM2278 701h2v1h-2zM896 486h2v1h-2zM1345 762h2v1h-2zM2153 762h2v1h-2zM34 341h3v1h-3zM1100 602h2v1h-2zM2413 602h2v1h-2zM977 529h2v1h-2zM1278 721h2v1h-2zM2240 721h2v1h-2zM485 381h8v1h-8zM938 506h2v1h-2zM2537 506h2v1h-2zM2357 645h2v1h-2zM1089 596h2v1h-2zM1339 758h2v1h-2zM2162 758h2v1h-2zM819 458h4v1h-4zM2493 540h2v1h-2zM1132 621h2v1h-2zM2389 621h2v1h-2zM2171 754h2v1h-2zM83 355h6v1h-6zM2098 783h3v1h-3zM0 328h2v1h-2zM1452 832h2v1h-2zM1957 832h2v1h-2zM559 395h4v1h-4zM853 468h4v1h-4zM2041 802h3v1h-3zM1121 615h2v1h-2zM2397 615h2v1h-2zM1353 767h2v1h-2zM2141 767h2v1h-2zM1153 634h2v1h-2zM2178 751h2v1h-2zM1337 757h2v1h-2zM2164 757h2v1h-2zM755 441h4v1h-4zM739 437h4v1h-4zM1294 731h2v1h-2zM2222 731h2v1h-2zM2214 735h2v1h-2zM1499 857h2v1h-2zM1865 857h5v1h-5zM930 502h2v1h-2zM2286 697h2v1h-2zM2373 633h2v1h-2zM894 485h2v1h-2zM2434 585h2v1h-2zM949 512h2v1h-2zM2203 740h2v1h-2zM79 354h4v1h-4zM1935 839h3v1h-3zM1257 707h2v1h-2zM2266 707h2v1h-2zM2013 811h2v1h-2zM1981 823h2v1h-2zM2220 732h2v1h-2zM1102 603h2v1h-2zM1130 620h2v1h-2zM555 394h4v1h-4zM735 436h4v1h-4zM954 515h2v1h-2zM1270 716h2v1h-2zM2250 716h2v1h-2zM2309 680h2v1h-2zM2333 662h2v1h-2zM942 508h2v1h-2zM2534 508h2v1h-2zM583 401h4v1h-4zM2130 771h3v1h-3zM1317 745h2v1h-2zM2191 745h3v1h-3zM505 384h5v1h-5zM983 532h2v1h-2zM2503 532h2v1h-2zM1083 592h2v1h-2zM1229 686h2v1h-2zM2301 686h2v1h-2zM763 443h4v1h-4zM1091 597h2v1h-2zM900 488h2v1h-2zM2562 488h2v1h-2zM28 339h3v1h-3zM31 340h3v1h-3zM611 408h4v1h-4zM789 450h4v1h-4zM707 429h4v1h-4zM1134 622h2v1h-2zM815 457h4v1h-4zM1302 736h2v1h-2zM2212 736h2v1h-2zM1113 610h2v1h-2zM1065 581h2v1h-2zM2439 581h2v1h-2zM1331 753h2v1h-2zM2173 753h2v1h-2zM945 510h2v1h-2zM2531 510h2v1h-2zM1286 726h2v1h-2zM2231 726h2v1h-2zM59 349h4v1h-4zM884 480h2v1h-2zM783 448h3v1h-3zM2077 790h2v1h-2zM25 338h3v1h-3zM1494 855h3v1h-3zM1875 855h4v1h-4zM1075 587h2v1h-2zM2229 727h2v1h-2zM2248 717h2v1h-2zM1125 617h2v1h-2zM636 415h3v1h-3zM1310 741h2v1h-2zM2201 741h2v1h-2zM944 509h1v1h-1zM953 514h1v1h-1zM960 518h1v1h-1zM965 521h1v1h-1zM968 523h1v1h-1zM973 526h1v1h-1zM976 528h1v1h-1zM985 533h1v1h-1zM992 537h1v1h-1zM997 540h1v1h-1zM1000 542h1v1h-1zM1005 545h1v1h-1zM1008 547h1v1h-1zM1017 552h1v1h-1zM1024 556h1v1h-1zM1029 559h1v1h-1zM1032 561h1v1h-1zM1037 564h1v1h-1zM1040 566h1v1h-1zM1049 571h1v1h-1zM1056 575h1v1h-1zM1061 578h1v1h-1zM1064 580h1v1h-1zM1069 583h1v1h-1zM1072 585h1v1h-1zM1077 588h1v1h-1zM1080 590h1v1h-1zM1085 593h1v1h-1zM1088 595h1v1h-1zM1097 600h1v1h-1zM1104 604h1v1h-1zM1109 607h1v1h-1zM1112 609h1v1h-1zM1117 612h1v1h-1zM1120 614h1v1h-1zM1129 619h1v1h-1zM1136 623h1v1h-1zM1141 626h1v1h-1zM1144 628h1v1h-1zM1149 631h1v1h-1zM1152 633h1v1h-1zM1161 638h1v1h-1zM1168 642h1v1h-1zM1173 645h1v1h-1zM1176 647h1v1h-1zM1181 650h1v1h-1zM1184 652h1v1h-1zM1189 655h1v1h-1zM1192 657h1v1h-1zM1197 660h1v1h-1zM1200 662h1v1h-1zM1201 663h1v1h-1zM1204 665h1v1h-1zM1205 666h1v1h-1zM1206 667h1v1h-1zM1209 669h1v1h-1zM1210 670h1v1h-1zM1211 671h1v1h-1zM1212 672h1v1h-1zM1215 674h1v1h-1zM1216 675h1v1h-1zM1217 676h1v1h-1zM1220 678h1v1h-1zM1221 679h1v1h-1zM1222 680h1v1h-1zM1225 682h1v1h-1zM1226 683h1v1h-1zM1227 684h1v1h-1zM1228 685h1v1h-1zM1231 687h1v1h-1zM1232 688h1v1h-1zM1235 690h1v1h-1zM1236 691h1v1h-1zM1239 693h1v1h-1zM1240 694h1v1h-1zM1243 696h1v1h-1zM1244 697h1v1h-1zM1247 699h1v1h-1zM1248 700h1v1h-1zM1251 702h1v1h-1zM1252 703h1v1h-1zM1255 705h1v1h-1zM1256 706h1v1h-1zM1259 708h1v1h-1zM1260 709h1v1h-1zM1263 711h1v1h-1zM1264 712h1v1h-1zM1269 715h1v1h-1zM1272 717h1v1h-1zM1277 720h1v1h-1zM1280 722h1v1h-1zM1285 725h1v1h-1zM1288 727h1v1h-1zM1293 730h1v1h-1zM1296 732h1v1h-1zM1301 735h1v1h-1zM1304 737h1v1h-1zM1309 740h1v1h-1zM1312 742h1v1h-1zM1321 747h1v1h-1zM1328 751h1v1h-1zM1333 754h1v1h-1zM1336 756h1v1h-1zM1341 759h1v1h-1zM1344 761h1v1h-1zM1349 764h1v1h-1zM1352 766h1v1h-1zM1357 769h1v1h-1zM1360 771h1v1h-1zM1365 774h1v1h-1zM1368 776h1v1h-1zM1373 779h1v1h-1zM1376 781h1v1h-1zM1379 783h1v1h-1zM1382 785h1v1h-1zM1385 787h1v1h-1zM1386 788h1v1h-1zM1389 790h1v1h-1zM1392 792h1v1h-1zM1397 795h1v1h-1zM1400 797h1v1h-1zM1405 800h1v1h-1zM1408 802h1v1h-1zM1411 804h1v1h-1zM1412 805h1v1h-1zM1415 807h1v1h-1zM1416 808h1v1h-1zM1419 810h1v1h-1zM1420 811h1v1h-1zM1423 813h1v1h-1zM1424 814h1v1h-1zM1427 816h1v1h-1zM1428 817h1v1h-1zM1431 819h1v1h-1zM1432 820h1v1h-1zM1435 822h1v1h-1zM1436 823h1v1h-1zM1439 825h1v1h-1zM1456 834h1v1h-1zM1465 839h1v1h-1zM1472 843h1v1h-1zM1481 848h1v1h-1zM2224 730h1v1h-1zM2233 725h1v1h-1zM2256 713h1v1h-1zM2265 708h1v1h-1zM2288 696h1v1h-1zM2291 694h1v1h-1zM2292 693h1v1h-1zM2295 691h1v1h-1zM2296 690h1v1h-1zM2299 688h1v1h-1zM2300 687h1v1h-1zM2303 685h1v1h-1zM2304 684h1v1h-1zM2307 682h1v1h-1zM2308 681h1v1h-1zM2311 679h1v1h-1zM2312 678h1v1h-1zM2315 676h1v1h-1zM2316 675h1v1h-1zM2319 673h1v1h-1zM2320 672h1v1h-1zM2323 670h1v1h-1zM2324 669h1v1h-1zM2327 667h1v1h-1zM2328 666h1v1h-1zM2331 664h1v1h-1zM2332 663h1v1h-1zM2335 661h1v1h-1zM2336 660h1v1h-1zM2339 658h1v1h-1zM2342 656h1v1h-1zM2345 654h1v1h-1zM2346 653h1v1h-1zM2349 651h1v1h-1zM2352 649h1v1h-1zM2355 647h1v1h-1zM2356 646h1v1h-1zM2359 644h1v1h-1zM2360 643h1v1h-1zM2363 641h1v1h-1zM2364 640h1v1h-1zM2367 638h1v1h-1zM2368 637h1v1h-1zM2371 635h1v1h-1zM2372 634h1v1h-1zM2375 632h1v1h-1zM2376 631h1v1h-1zM2379 629h1v1h-1zM2380 628h1v1h-1zM2383 626h1v1h-1zM2384 625h1v1h-1zM2387 623h1v1h-1zM2388 622h1v1h-1zM2391 620h1v1h-1zM2392 619h1v1h-1zM2395 617h1v1h-1zM2396 616h1v1h-1zM2399 614h1v1h-1zM2400 613h1v1h-1zM2401 612h1v1h-1zM2404 610h1v1h-1zM2405 609h1v1h-1zM2406 608h1v1h-1zM2409 606h1v1h-1zM2410 605h1v1h-1zM2411 604h1v1h-1zM2412 603h1v1h-1zM2415 601h1v1h-1zM2416 600h1v1h-1zM2417 599h1v1h-1zM2420 597h1v1h-1zM2421 596h1v1h-1zM2422 595h1v1h-1zM2425 593h1v1h-1zM2426 592h1v1h-1zM2427 591h1v1h-1zM2428 590h1v1h-1zM2431 588h1v1h-1zM2432 587h1v1h-1zM2433 586h1v1h-1zM2436 584h1v1h-1zM2437 583h1v1h-1zM2438 582h1v1h-1zM2441 580h1v1h-1zM2442 579h1v1h-1zM2443 578h1v1h-1zM2444 577h1v1h-1zM2447 575h1v1h-1zM2448 574h1v1h-1zM2451 572h1v1h-1zM2452 571h1v1h-1zM2455 569h1v1h-1zM2456 568h1v1h-1zM2459 566h1v1h-1zM2460 565h1v1h-1zM2463 563h1v1h-1zM2464 562h1v1h-1zM2467 560h1v1h-1zM2470 558h1v1h-1zM2473 556h1v1h-1zM2474 555h1v1h-1zM2477 553h1v1h-1zM2480 551h1v1h-1zM2481 550h1v1h-1zM2484 548h1v1h-1zM2485 547h1v1h-1zM2486 546h1v1h-1zM2489 544h1v1h-1zM2490 543h1v1h-1zM2491 542h1v1h-1zM2492 541h1v1h-1zM2495 539h1v1h-1zM2496 538h1v1h-1zM2497 537h1v1h-1zM2500 535h1v1h-1zM2501 534h1v1h-1zM2502 533h1v1h-1zM2505 531h1v1h-1zM2506 530h1v1h-1zM2507 529h1v1h-1zM2508 528h1v1h-1zM2511 526h1v1h-1zM2512 525h1v1h-1zM2513 524h1v1h-1zM2516 522h1v1h-1zM2517 521h1v1h-1zM2518 520h1v1h-1zM2521 518h1v1h-1zM2522 517h1v1h-1zM2523 516h1v1h-1zM2524 515h1v1h-1zM2527 513h1v1h-1zM2528 512h1v1h-1zM2533 509h1v1h-1zM2536 507h1v1h-1zM2541 504h1v1h-1zM2544 502h1v1h-1zM2547 500h1v1h-1zM2548 499h1v1h-1zM2551 497h1v1h-1zM2552 496h1v1h-1zM2555 494h1v1h-1zM2556 493h1v1h-1zM2559 491h1v1h-1zM2560 490h1v1h-1zM2561 489h1v1h-1zM2564 487h1v1h-1zM2565 486h1v1h-1zM2566 485h1v1h-1zM2569 483h1v1h-1zM2570 482h1v1h-1zM2571 481h1v1h-1zM2572 480h1v1h-1zM2575 478h1v1h-1zM2576 477h1v1h-1zM2577 476h1v1h-1zM2578 475h1v1h-1zM2581 473h1v1h-1zM2582 472h1v1h-1zM2583 471h1v1h-1zM2584 470h1v1h-1zM2585 469h1v1h-1zM2586 468h1v1h-1zM2589 466h1v1h-1zM2590 465h1v1h-1zM2591 464h1v1h-1zM2592 463h1v1h-1zM2593 462h1v1h-1zM2594 461h1v1h-1zM2595 460h1v1h-1zM2596 459h1v1h-1zM2597 458h1v1h-1zM2598 457h1v1h-1zM2599 456h1v1h-1zM2600 455h1v1h-1zM2601 454h1v1h-1zM2602 453h1v1h-1zM2603 452h1v1h-1zM2604 451h1v1h-1zM2605 450h1v1h-1zM2606 449h1v1h-1zM2607 448h1v1h-1zM2608 447h1v1h-1zM2609 446h1v1h-1zM2610 445h1v1h-1zM2611 444h1v1h-1zM2612 443h1v1h-1zM2613 442h1v1h-1zM2614 441h1v1h-1zM2615 440h1v1h-1zM2616 439h1v1h-1zM2617 438h1v1h-1zM2618 437h1v1h-1zM2619 436h1v1h-1zM2620 435h1v1h-1zM2621 434h1v1h-1zM2622 433h1v1h-1zM2623 432h1v1h-1zM2624 431h1v1h-1zM2625 430h1v1h-1zM2626 429h1v1h-1zM2627 428h1v1h-1zM2628 426h1v2h-1zM2629 425h1v1h-1zM2630 424h1v1h-1zM2631 423h1v1h-1zM2632 422h1v1h-1zM2633 421h1v1h-1zM2634 420h1v1h-1zM2635 419h1v1h-1zM2636 417h1v2h-1zM2637 416h1v1h-1zM2638 415h1v1h-1zM2639 414h1v1h-1z"/>
<rect x="0" y="968" width="2643" height="1" fill="#C0C0C0"/>
<g fill="#008000"><rect x="0" y="241" width="1" height="96"/><rect x="-5" y="300" width="11" height="4"/></g><g fill="#FF0000"><rect x="16" y="296" width="1" height="30"/><rect x="11" y="298" width="11" height="27"/></g><g fill="#008000"><rect x="32" y="255" width="1" height="98"/><rect x="27" y="272" width="11" height="53"/></g><g fill="#FF0000"><rect x="48" y="234" width="1" height="70"/><rect x="43" y="271" width="11" height="7"/></g><g fill="#008000"><rect x="64" y="201" width="1" height="113"/><rect x="59" y="223" width="11" height="55"/></g><g fill="#008000"><rect x="80" y="200" width="1" height="66"/><rect x="75" y="218" width="11" height="6"/></g><g fill="#FF0000"><rect x="96" y="179" width="1" height="137"/><rect x="91" y="218" width="11" height="9"/></g><g fill="#FF0000"><rect x="112" y="229" width="1" height="21"/><rect x="107" y="232" width="11" height="17"/></g><g fill="#008000"><rect x="128" y="162" width="1" height="90"/><rect x="123" y="188" width="11" height="61"/></g><g fill="#FF0000"><rect x="144" y="179" width="1" height="163"/><rect x="139" y="188" width="11" height="152"/></g><g fill="#008000"><rect x="160" y="265" width="1" height="79"/><rect x="155" y="286" width="11" height="54"/></g><g fill="#008000"><rect x="176" y="227" width="1" height="63"/><rect x="171" y="261" width="11" height="26"/></g><g fill="#FF0000"><rect x="192" y="244" width="1" height="119"/><rect x="187" y="261" width="11" height="55"/></g><g fill="#FF0000"><rect x="208" y="315" width="1" height="14"/><rect x="203" y="319" width="11" height="6"/></g><g fill="#008000"><rect x="224" y="205" width="1" height="126"/><rect x="219" y="228" width="11" height="97"/></g><g fill="#FF0000"><rect x="240" y="221" width="1" height="51"/><rect x="235" y="228" width="11" height="43"/></g><g fill="#008000"><rect x="256" y="92" width="1" height="185"/><rect x="251" y="123" width="11" height="147"/></g><g fill="#008000"><rect x="272" y="61" width="1" height="84"/><rect x="267" y="101" width="11" height="23"/></g><g fill="#008000"><rect x="288" y="70" width="1" height="50"/><rect x="283" y="75" width="11" height="27"/></g><g fill="#FF0000"><rect x="304" y="74" width="1" height="17"/><rect x="299" y="84" width="11" height="2"/></g><g fill="#FF0000"><rect x="320" y="74" width="1" height="130"/><rect x="315" y="85" width="11" height="110"/></g><g fill="#008000"><rect x="336" y="170" width="1" height="56"/><rect x="331" y="193" width="11" height="2"/></g><g fill="#FF0000"><rect x="352" y="185" width="1" height="132"/><rect x="347" y="193" width="11" height="101"/></g><g fill="#FF0000"><rect x="368" y="249" width="1" height="81"/><rect x="363" y="293" width="11" height="23"/></g><g fill="#FF0000"><rect x="384" y="306" width="1" height="69"/><rect x="379" y="315" width="11" height="40"/></g><g fill="#008000"><rect x="400" y="353" width="1" height="13"/><rect x="395" y="354" width="11" height="10"/></g><g fill="#008000"><rect x="416" y="295" width="1" height="77"/><rect x="411" y="353" width="11" height="2"/></g><g fill="#008000"><rect x="432" y="256" width="1" height="122"/><rect x="427" y="304" width="11" height="50"/></g><g fill="#FF0000"><rect x="448" y="296" width="1" height="57"/><rect x="443" y="304" width="11" height="19"/></g><g fill="#008000"><rect x="464" y="225" width="1" height="101"/><rect x="459" y="258" width="11" height="65"/></g><g fill="#FF0000"><rect x="480" y="205" width="1" height="137"/><rect x="475" y="258" width="11" height="80"/></g><g fill="#FF0000"><rect x="496" y="344" width="1" height="30"/><rect x="491" y="349" width="11" height="20"/></g><g fill="#008000"><rect x="512" y="299" width="1" height="97"/><rect x="507" y="320" width="11" height="49"/></g><g fill="#FF0000"><rect x="528" y="265" width="1" height="125"/><rect x="523" y="320" width="11" height="60"/></g><g fill="#FF0000"><rect x="544" y="324" width="1" height="89"/><rect x="539" y="380" width="11" height="31"/></g><g fill="#FF0000"><rect x="560" y="389" width="1" height="85"/><rect x="555" y="410" width="11" height="37"/></g><g fill="#008000"><rect x="576" y="379" width="1" height="86"/><rect x="571" y="428" width="11" height="19"/></g><g fill="#008000"><rect x="592" y="443" width="1" height="26"/><rect x="587" y="454" width="11" height="10"/></g><g fill="#008000"><rect x="608" y="424" width="1" height="49"/><rect x="603" y="428" width="11" height="27"/></g><g fill="#FF0000"><rect x="624" y="404" width="1" height="116"/><rect x="619" y="429" width="11" height="91"/></g><g fill="#008000"><rect x="640" y="472" width="1" height="48"/><rect x="635" y="495" width="11" height="25"/></g><g fill="#008000"><rect x="656" y="479" width="1" height="31"/><rect x="651" y="481" width="11" height="15"/></g><g fill="#008000"><rect x="672" y="354" width="1" height="130"/><rect x="667" y="391" width="11" height="91"/></g><g fill="#008000"><rect x="688" y="385" width="1" height="23"/><rect x="683" y="389" width="11" height="13"/></g><g fill="#008000"><rect x="704" y="328" width="1" height="86"/><rect x="699" y="336" width="11" height="54"/></g><g fill="#FF0000"><rect x="720" y="310" width="1" height="210"/><rect x="715" y="336" width="11" height="184"/></g><g fill="#008000"><rect x="736" y="484" width="1" height="36"/><rect x="731" y="494" width="11" height="26"/></g><g fill="#FF0000"><rect x="752" y="475" width="1" height="45"/><rect x="747" y="494" width="11" height="26"/></g><g fill="#FF0000"><rect x="816" y="501" width="1" height="19"/><rect x="811" y="515" width="11" height="5"/></g><g fill="#008000"><rect x="848" y="650" width="1" height="47"/><rect x="843" y="650" width="11" height="5"/></g><g fill="#FF0000"><rect x="864" y="650" width="1" height="118"/><rect x="859" y="650" width="11" height="97"/></g><g fill="#008000"><rect x="880" y="738" width="1" height="32"/><rect x="875" y="745" width="11" height="17"/></g><g fill="#FF0000"><rect x="896" y="738" width="1" height="113"/><rect x="891" y="745" width="11" height="68"/></g><g fill="#FF0000"><rect x="912" y="765" width="1" height="113"/><rect x="907" y="812" width="11" height="43"/></g><g fill="#008000"><rect x="928" y="745" width="1" height="189"/><rect x="923" y="776" width="11" height="79"/></g><g fill="#008000"><rect x="944" y="760" width="1" height="93"/><rect x="939" y="770" width="11" height="7"/></g><g fill="#FF0000"><rect x="960" y="753" width="1" height="150"/><rect x="955" y="770" width="11" height="123"/></g><g fill="#008000"><rect x="976" y="862" width="1" height="29"/><rect x="971" y="870" width="11" height="17"/></g><g fill="#008000"><rect x="992" y="755" width="1" height="125"/><rect x="987" y="776" width="11" height="95"/></g><g fill="#008000"><rect x="1008" y="726" width="1" height="112"/><rect x="1003" y="764" width="11" height="13"/></g><g fill="#FF0000"><rect x="1024" y="750" width="1" height="125"/><rect x="1019" y="764" width="11" height="3"/></g><g fill="#FF0000"><rect x="1040" y="734" width="1" height="171"/><rect x="1035" y="766" width="11" height="111"/></g><g fill="#FF0000"><rect x="1056" y="856" width="1" height="89"/><rect x="1051" y="876" width="11" height="55"/></g><g fill="#FF0000"><rect x="1072" y="928" width="1" height="31"/><rect x="1067" y="934" width="11" height="4"/></g><g fill="#FF0000"><rect x="1088" y="915" width="1" height="120"/><rect x="1083" y="937" width="11" height="74"/></g><g fill="#FF0000"><rect x="1104" y="954" width="1" height="112"/><rect x="1099" y="1010" width="11" height="36"/></g><g fill="#008000"><rect x="1120" y="1007" width="1" height="72"/><rect x="1115" y="1033" width="11" height="13"/></g><g fill="#008000"><rect x="1136" y="987" width="1" height="166"/><rect x="1131" y="1011" width="11" height="23"/></g><g fill="#FF0000"><rect x="1152" y="952" width="1" height="174"/><rect x="1147" y="1011" width="11" height="105"/></g><g fill="#008000"><rect x="1168" y="1091" width="1" height="25"/><rect x="1163" y="1093" width="11" height="17"/></g><g fill="#008000"><rect x="1184" y="992" width="1" height="116"/><rect x="1179" y="1008" width="11" height="86"/></g><g fill="#008000"><rect x="1200" y="961" width="1" height="84"/><rect x="1195" y="988" width="11" height="21"/></g><g fill="#FF0000"><rect x="1216" y="978" width="1" height="83"/><rect x="1211" y="988" width="11" height="60"/></g><g fill="#008000"><rect x="1232" y="942" width="1" height="145"/><rect x="1227" y="1035" width="11" height="12"/></g><g fill="#008000"><rect x="1248" y="901" width="1" height="207"/><rect x="1243" y="912" width="11" height="123"/></g><g fill="#FF0000"><rect x="1264" y="880" width="1" height="64"/><rect x="1259" y="900" width="11" height="29"/></g><g fill="#FF0000"><rect x="1280" y="919" width="1" height="118"/><rect x="1275" y="928" width="11" height="47"/></g><g fill="#008000"><rect x="1296" y="879" width="1" height="123"/><rect x="1291" y="910" width="11" height="65"/></g><g fill="#008000"><rect x="1312" y="767" width="1" height="158"/><rect x="1307" y="784" width="11" height="128"/></g><g fill="#FF0000"><rect x="1328" y="755" width="1" height="109"/><rect x="1323" y="784" width="11" height="52"/></g><g fill="#FF0000"><rect x="1344" y="803" width="1" height="103"/><rect x="1339" y="835" width="11" height="43"/></g><g fill="#FF0000"><rect x="1360" y="883" width="1" height="16"/><rect x="1355" y="890" width="11" height="2"/></g><g fill="#008000"><rect x="1376" y="861" width="1" height="67"/><rect x="1371" y="882" width="11" height="11"/></g><g fill="#FF0000"><rect x="1392" y="820" width="1" height="99"/><rect x="1387" y="882" width="11" height="16"/></g><g fill="#FF0000"><rect x="1408" y="788" width="1" height="182"/><rect x="1403" y="897" width="11" height="66"/></g><g fill="#FF0000"><rect x="1424" y="924" width="1" height="114"/><rect x="1419" y="963" width="11" height="57"/></g><g fill="#008000"><rect x="1440" y="799" width="1" height="225"/><rect x="1435" y="814" width="11" height="206"/></g><g fill="#008000"><rect x="1456" y="840" width="1" height="38"/><rect x="1451" y="849" width="11" height="18"/></g><g fill="#008000"><rect x="1472" y="790" width="1" height="96"/><rect x="1467" y="809" width="11" height="41"/></g><g fill="#008000"><rect x="1488" y="722" width="1" height="121"/><rect x="1483" y="770" width="11" height="40"/></g><g fill="#FF0000"><rect x="1504" y="755" width="1" height="122"/><rect x="1499" y="770" width="11" height="89"/></g><g fill="#008000"><rect x="1520" y="650" width="1" height="259"/><rect x="1515" y="650" width="11" height="209"/></g><g fill="#008000"><rect x="1536" y="650" width="1" height="42"/><rect x="1531" y="650" width="11" height="5"/></g><g fill="#008000"><rect x="1584" y="444" width="1" height="76"/><rect x="1579" y="475" width="11" height="45"/></g><g fill="#FF0000"><rect x="1600" y="449" width="1" height="71"/><rect x="1595" y="475" width="11" height="45"/></g><g fill="#FF0000"><rect x="1616" y="496" width="1" height="24"/><rect x="1611" y="515" width="11" height="5"/></g><g fill="#FF0000"><rect x="1664" y="650" width="1" height="35"/><rect x="1659" y="650" width="11" height="5"/></g><g fill="#008000"><rect x="1680" y="650" width="1" height="13"/><rect x="1675" y="650" width="11" height="5"/></g><g fill="#008000"><rect x="1696" y="502" width="1" height="18"/><rect x="1691" y="502" width="11" height="18"/></g><g fill="#008000"><rect x="1712" y="465" width="1" height="45"/><rect x="1707" y="480" width="11" height="23"/></g><g fill="#FF0000"><rect x="1728" y="463" width="1" height="47"/><rect x="1723" y="480" width="11" height="16"/></g><g fill="#008000"><rect x="1776" y="499" width="1" height="21"/><rect x="1771" y="515" width="11" height="5"/></g><g fill="#008000"><rect x="1792" y="440" width="1" height="80"/><rect x="1787" y="442" width="11" height="78"/></g><g fill="#008000"><rect x="1808" y="390" width="1" height="71"/><rect x="1803" y="429" width="11" height="14"/></g><g fill="#FF0000"><rect x="1824" y="400" width="1" height="120"/><rect x="1819" y="429" width="11" height="19"/></g><g fill="#008000"><rect x="1840" y="427" width="1" height="34"/><rect x="1835" y="427" width="11" height="25"/></g><g fill="#FF0000"><rect x="1856" y="383" width="1" height="137"/><rect x="1851" y="427" width="11" height="93"/></g><g fill="#FF0000"><rect x="1872" y="504" width="1" height="16"/><rect x="1867" y="515" width="11" height="5"/></g><g fill="#008000"><rect x="1888" y="506" width="1" height="14"/><rect x="1883" y="515" width="11" height="5"/></g><g fill="#008000"><rect x="1904" y="462" width="1" height="58"/><rect x="1899" y="469" width="11" height="51"/></g><g fill="#008000"><rect x="1920" y="426" width="1" height="80"/><rect x="1915" y="445" width="11" height="25"/></g><g fill="#FF0000"><rect x="1936" y="444" width="1" height="23"/><rect x="1931" y="455" width="11" height="11"/></g><g fill="#FF0000"><rect x="1952" y="446" width="1" height="74"/><rect x="1947" y="465" width="11" height="32"/></g><g fill="#008000"><rect x="1968" y="336" width="1" height="184"/><rect x="1963" y="394" width="11" height="103"/></g><g fill="#008000"><rect x="1984" y="349" width="1" height="81"/><rect x="1979" y="376" width="11" height="19"/></g><g fill="#FF0000"><rect x="2000" y="362" width="1" height="158"/><rect x="1995" y="376" width="11" height="144"/></g><g fill="#FF0000"><rect x="2064" y="504" width="1" height="16"/><rect x="2059" y="515" width="11" height="5"/></g><g fill="#FF0000"><rect x="2096" y="478" width="1" height="42"/><rect x="2091" y="515" width="11" height="5"/></g><g fill="#008000"><rect x="2144" y="466" width="1" height="54"/><rect x="2139" y="506" width="11" height="14"/></g><g fill="#FF0000"><rect x="2160" y="468" width="1" height="52"/><rect x="2155" y="506" width="11" height="14"/></g><g fill="#008000"><rect x="2176" y="440" width="1" height="80"/><rect x="2171" y="501" width="11" height="19"/></g><g fill="#008000"><rect x="2192" y="455" width="1" height="52"/><rect x="2187" y="480" width="11" height="22"/></g><g fill="#008000"><rect x="2208" y="417" width="1" height="77"/><rect x="2203" y="421" width="11" height="60"/></g><g fill="#008000"><rect x="2224" y="422" width="1" height="43"/><rect x="2219" y="429" width="11" height="7"/></g><g fill="#FF0000"><rect x="2240" y="421" width="1" height="48"/><rect x="2235" y="424" width="11" height="12"/></g><g fill="#FF0000"><rect x="2256" y="402" width="1" height="118"/><rect x="2251" y="434" width="11" height="86"/></g><g fill="#008000"><rect x="2272" y="344" width="1" height="176"/><rect x="2267" y="409" width="11" height="111"/></g><g fill="#FF0000"><rect x="2288" y="390" width="1" height="130"/><rect x="2283" y="408" width="11" height="87"/></g><g fill="#008000"><rect x="2304" y="343" width="1" height="177"/><rect x="2299" y="355" width="11" height="140"/></g><g fill="#008000"><rect x="2320" y="332" width="1" height="26"/><rect x="2315" y="333" width="11" height="21"/></g><g fill="#008000"><rect x="2336" y="272" width="1" height="74"/><rect x="2331" y="317" width="11" height="17"/></g><g fill="#FF0000"><rect x="2352" y="297" width="1" height="78"/><rect x="2347" y="317" width="11" height="20"/></g><g fill="#008000"><rect x="2368" y="299" width="1" height="61"/><rect x="2363" y="318" width="11" height="19"/></g><g fill="#008000"><rect x="2384" y="232" width="1" height="128"/><rect x="2379" y="252" width="11" height="67"/></g><g fill="#008000"><rect x="2400" y="222" width="1" height="90"/><rect x="2395" y="241" width="11" height="12"/></g><g fill="#008000"><rect x="2416" y="241" width="1" height="12"/><rect x="2411" y="247" width="11" height="2"/></g><g fill="#FF0000"><rect x="2432" y="194" width="1" height="90"/><rect x="2427" y="246" width="11" height="10"/></g><g fill="#008000"><rect x="2448" y="218" width="1" height="77"/><rect x="2443" y="229" width="11" height="27"/></g><g fill="#FF0000"><rect x="2464" y="144" width="1" height="145"/><rect x="2459" y="229" width="11" height="51"/></g><g fill="#FF0000"><rect x="2480" y="274" width="1" height="87"/><rect x="2475" y="279" width="11" height="37"/></g><g fill="#008000"><rect x="2496" y="245" width="1" height="77"/><rect x="2491" y="251" width="11" height="64"/></g><g fill="#008000"><rect x="2512" y="233" width="1" height="27"/><rect x="2507" y="234" width="11" height="19"/></g><g fill="#008000"><rect x="2528" y="170" width="1" height="89"/><rect x="2523" y="183" width="11" height="52"/></g><g fill="#008000"><rect x="2544" y="150" width="1" height="73"/><rect x="2539" y="158" width="11" height="26"/></g><g fill="#008000"><rect x="2560" y="77" width="1" height="95"/><rect x="2555" y="94" width="11" height="65"/></g><g fill="#008000"><rect x="2576" y="54" width="1" height="73"/><rect x="2571" y="87" width="11" height="8"/></g><g fill="#FF0000"><rect x="2592" y="69" width="1" height="54"/><rect x="2587" y="87" width="11" height="6"/></g><g fill="#008000"><rect x="2608" y="92" width="1" height="16"/><rect x="2603" y="94" width="11" height="10"/></g><g fill="#FF0000"><rect x="2624" y="80" width="1" height="78"/><rect x="2619" y="94" width="11" height="57"/></g><g fill="#FF0000"><rect x="2640" y="142" width="1" height="92"/><rect x="2635" y="150" width="11" height="9"/></g>
</g>
<rect x="2643" y="0" width="1" height="1182" fill="#000"/>
<rect x="0" y="1181" width="2644" height="1" fill="#000"/>
<polygon points="0,1173 8,1181 0,1181" fill="#C0C0C0"/>
<rect x="2644" y="41" width="2" height="1" fill="#000"/><text class="ax" x="2650" y="47.2" textLength="52" lengthAdjust="spacingAndGlyphs">0.71540</text>
<rect x="2644" y="106" width="2" height="1" fill="#000"/><text class="ax" x="2650" y="112.2" textLength="52" lengthAdjust="spacingAndGlyphs">0.70965</text>
<rect x="2644" y="171" width="2" height="1" fill="#000"/><text class="ax" x="2650" y="177.2" textLength="52" lengthAdjust="spacingAndGlyphs">0.70390</text>
<rect x="2644" y="236" width="2" height="1" fill="#000"/><text class="ax" x="2650" y="242.2" textLength="52" lengthAdjust="spacingAndGlyphs">0.69815</text>
<rect x="2644" y="301" width="2" height="1" fill="#000"/><text class="ax" x="2650" y="307.2" textLength="52" lengthAdjust="spacingAndGlyphs">0.69240</text>
<rect x="2644" y="366" width="2" height="1" fill="#000"/><text class="ax" x="2650" y="372.2" textLength="52" lengthAdjust="spacingAndGlyphs">0.68665</text>
<rect x="2644" y="431" width="2" height="1" fill="#000"/><text class="ax" x="2650" y="437.2" textLength="52" lengthAdjust="spacingAndGlyphs">0.68085</text>
<rect x="2644" y="496" width="2" height="1" fill="#000"/><text class="ax" x="2650" y="502.2" textLength="52" lengthAdjust="spacingAndGlyphs">0.67510</text>
<rect x="2644" y="561" width="2" height="1" fill="#000"/><text class="ax" x="2650" y="567.2" textLength="52" lengthAdjust="spacingAndGlyphs">0.66935</text>
<rect x="2644" y="626" width="2" height="1" fill="#000"/><text class="ax" x="2650" y="632.2" textLength="52" lengthAdjust="spacingAndGlyphs">0.66360</text>
<rect x="2644" y="691" width="2" height="1" fill="#000"/><text class="ax" x="2650" y="697.2" textLength="52" lengthAdjust="spacingAndGlyphs">0.65785</text>
<rect x="2644" y="756" width="2" height="1" fill="#000"/><text class="ax" x="2650" y="762.2" textLength="52" lengthAdjust="spacingAndGlyphs">0.65210</text>
<rect x="2644" y="821" width="2" height="1" fill="#000"/><text class="ax" x="2650" y="827.2" textLength="52" lengthAdjust="spacingAndGlyphs">0.64630</text>
<rect x="2644" y="886" width="2" height="1" fill="#000"/><text class="ax" x="2650" y="892.2" textLength="52" lengthAdjust="spacingAndGlyphs">0.64055</text>
<rect x="2644" y="951" width="2" height="1" fill="#000"/><text class="ax" x="2650" y="957.2" textLength="52" lengthAdjust="spacingAndGlyphs">0.63480</text>
<rect x="2644" y="1016" width="2" height="1" fill="#000"/><text class="ax" x="2650" y="1022.2" textLength="52" lengthAdjust="spacingAndGlyphs">0.62905</text>
<rect x="2644" y="1081" width="2" height="1" fill="#000"/><text class="ax" x="2650" y="1087.2" textLength="52" lengthAdjust="spacingAndGlyphs">0.62330</text>
<rect x="2644" y="1146" width="2" height="1" fill="#000"/><text class="ax" x="2650" y="1152.2" textLength="52" lengthAdjust="spacingAndGlyphs">0.61755</text>
<rect x="2645" y="960" width="62" height="17" fill="#000"/><text class="ax" x="2650" y="974.2" textLength="52" lengthAdjust="spacingAndGlyphs" style="fill:#fff">0.63335</text>
<rect x="0" y="1182" width="1" height="3" fill="#000"/><text class="ax" x="-1" y="1198.7" style="font-size:14px">22 Jul 2022</text>
<rect x="128" y="1182" width="1" height="3" fill="#000"/><text class="ax" x="127" y="1198.7" style="font-size:14px">1 Aug 2022</text>
<rect x="256" y="1182" width="1" height="3" fill="#000"/><text class="ax" x="255" y="1198.7" style="font-size:14px">10 Aug 2022</text>
<rect x="384" y="1182" width="1" height="3" fill="#000"/><text class="ax" x="383" y="1198.7" style="font-size:14px">19 Aug 2022</text>
<rect x="512" y="1182" width="1" height="3" fill="#000"/><text class="ax" x="511" y="1198.7" style="font-size:14px">29 Aug 2022</text>
<rect x="640" y="1182" width="1" height="3" fill="#000"/><text class="ax" x="639" y="1198.7" style="font-size:14px">7 Sep 2022</text>
<rect x="768" y="1182" width="1" height="3" fill="#000"/><text class="ax" x="767" y="1198.7" style="font-size:14px">16 Sep 2022</text>
<rect x="896" y="1182" width="1" height="3" fill="#000"/><text class="ax" x="895" y="1198.7" style="font-size:14px">26 Sep 2022</text>
<rect x="1024" y="1182" width="1" height="3" fill="#000"/><text class="ax" x="1023" y="1198.7" style="font-size:14px">5 Oct 2022</text>
<rect x="1152" y="1182" width="1" height="3" fill="#000"/><text class="ax" x="1151" y="1198.7" style="font-size:14px">14 Oct 2022</text>
<rect x="1280" y="1182" width="1" height="3" fill="#000"/><text class="ax" x="1279" y="1198.7" style="font-size:14px">24 Oct 2022</text>
<rect x="1408" y="1182" width="1" height="3" fill="#000"/><text class="ax" x="1407" y="1198.7" style="font-size:14px">2 Nov 2022</text>
<rect x="1536" y="1182" width="1" height="3" fill="#000"/><text class="ax" x="1535" y="1198.7" style="font-size:14px">11 Nov 2022</text>
<rect x="1664" y="1182" width="1" height="3" fill="#000"/><text class="ax" x="1663" y="1198.7" style="font-size:14px">21 Nov 2022</text>
<rect x="1792" y="1182" width="1" height="3" fill="#000"/><text class="ax" x="1791" y="1198.7" style="font-size:14px">30 Nov 2022</text>
<rect x="1920" y="1182" width="1" height="3" fill="#000"/><text class="ax" x="1919" y="1198.7" style="font-size:14px">9 Dec 2022</text>
<rect x="2048" y="1182" width="1" height="3" fill="#000"/><text class="ax" x="2047" y="1198.7" style="font-size:14px">19 Dec 2022</text>
<rect x="2176" y="1182" width="1" height="3" fill="#000"/><text class="ax" x="2175" y="1198.7" style="font-size:14px">28 Dec 2022</text>
<rect x="2304" y="1182" width="1" height="3" fill="#000"/><text class="ax" x="2303" y="1198.7" style="font-size:14px">6 Jan 2023</text>
<rect x="2432" y="1182" width="1" height="3" fill="#000"/><text class="ax" x="2431" y="1198.7" style="font-size:14px">16 Jan 2023</text>
<rect x="2560" y="1182" width="1" height="3" fill="#000"/><text class="ax" x="2559" y="1198.7" style="font-size:14px">25 Jan 2023</text>
<text class="ax" x="4" y="13.7" textLength="87" lengthAdjust="spacingAndGlyphs">AUDUSD,Daily</text>
<rect x="6" y="596" width="154" height="22" fill="#000"/>
<rect x="241" y="508" width="2092" height="151" fill="#EC1C24" stroke="#000" stroke-width="2"/>
<text class="bn" transform="translate(286.80,618.8) scale(1.1278,1)" font-size="90.9" letter-spacing="5" fill="#fff" stroke="#fff" stroke-width="5" stroke-linejoin="miter" stroke-miterlimit="3" shape-rendering="geometricPrecision">Two</text>
<text class="bn" transform="translate(539.00,618.8) scale(1.0772,1)" font-size="90.9" letter-spacing="5" fill="#fff" stroke="#fff" stroke-width="5" stroke-linejoin="miter" stroke-miterlimit="3" shape-rendering="geometricPrecision">MACD</text>
<text class="bn" transform="translate(887.20,618.8) scale(1.1393,1)" font-size="90.9" letter-spacing="5" fill="#fff" stroke="#fff" stroke-width="5" stroke-linejoin="miter" stroke-miterlimit="3" shape-rendering="geometricPrecision">with</text>
<text class="bn" transform="translate(1147.60,618.8) scale(1.0741,1)" font-size="90.9" letter-spacing="5" fill="#fff" stroke="#fff" stroke-width="5" stroke-linejoin="miter" stroke-miterlimit="3" shape-rendering="geometricPrecision">Signals</text>
<text class="bn" transform="translate(1561.40,618.8) scale(1.1395,1)" font-size="90.9" letter-spacing="5" fill="#fff" stroke="#fff" stroke-width="5" stroke-linejoin="miter" stroke-miterlimit="3" shape-rendering="geometricPrecision">MT4</text>
<text class="bn" transform="translate(1819.60,618.8) scale(1.1101,1)" font-size="90.9" letter-spacing="5" fill="#fff" stroke="#fff" stroke-width="5" stroke-linejoin="miter" stroke-miterlimit="3" shape-rendering="geometricPrecision">Indicator</text>
<text class="bn" transform="translate(1.90,1169.3) scale(0.8364,1)" font-size="36" font-weight="normal" letter-spacing="0" fill="#000" stroke="#000" stroke-width="0.4" stroke-linejoin="miter" stroke-miterlimit="3" shape-rendering="geometricPrecision">@</text>
<text class="bn" transform="translate(43.00,1170.2) scale(1.1257,1)" font-size="33.9" font-weight="bold" letter-spacing="1.6" fill="#000" stroke="#000" stroke-width="1.8" stroke-linejoin="miter" stroke-miterlimit="3" shape-rendering="geometricPrecision">ForexMT4Indicators.com</text>
</svg>
</body></html>
